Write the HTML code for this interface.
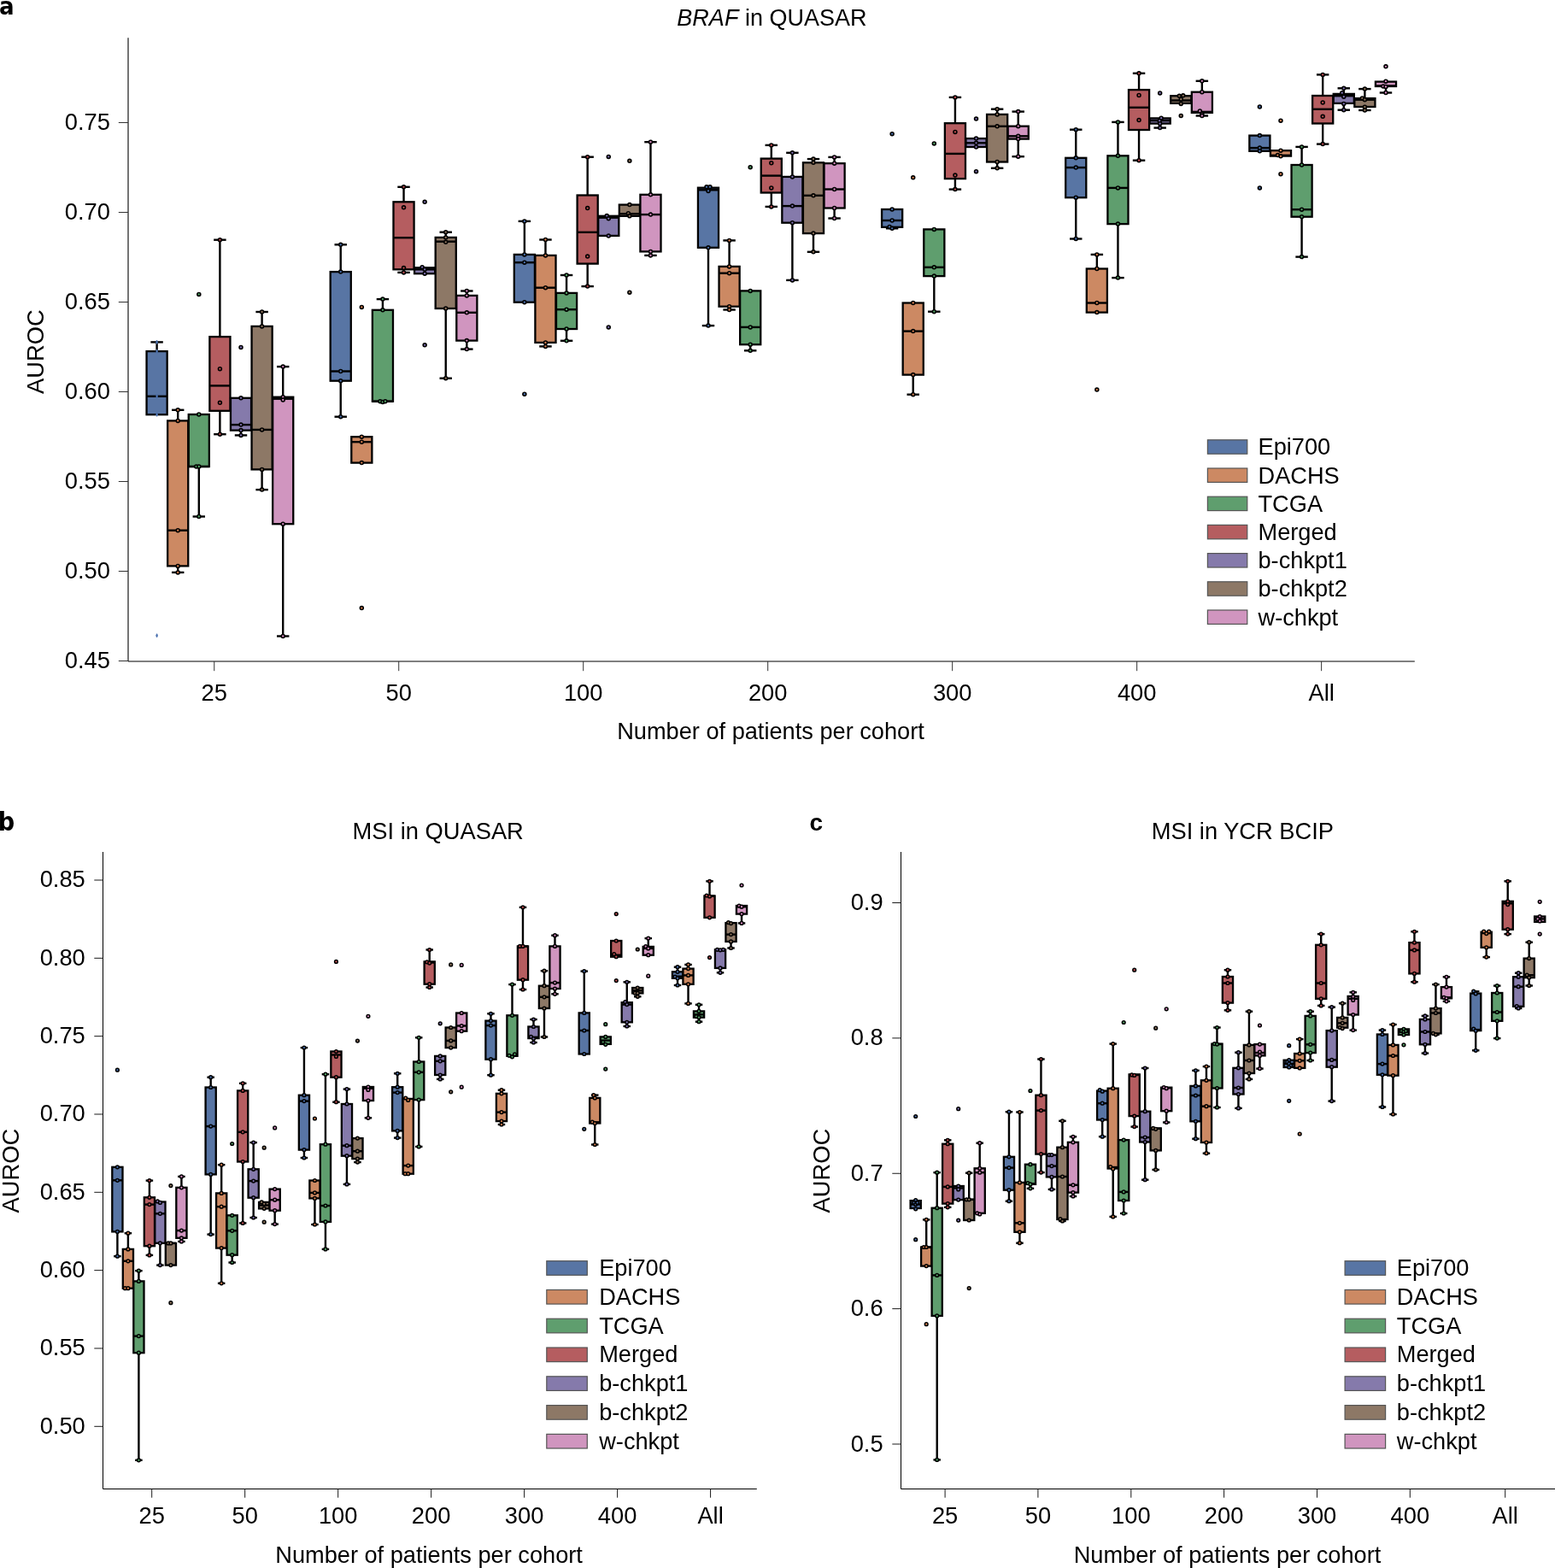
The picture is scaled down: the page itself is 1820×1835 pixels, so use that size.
<!DOCTYPE html>
<html><head><meta charset="utf-8"><title>AUROC box plots</title>
<style>
html,body{margin:0;padding:0;background:#fff;}
body{width:1820px;height:1835px;overflow:hidden;}
svg{display:block;font-family:'Liberation Sans', Arial, Helvetica, sans-serif;}
.b{stroke:#000;stroke-width:2.3;}
.w{stroke:#000;stroke-width:2.4;fill:none;stroke-linecap:square;}
.m{stroke:#000;stroke-width:2.4;fill:none;}
.lt{font-family:'Liberation Sans',Arial,sans-serif;font-weight:bold;}
.lc{font-family:'DejaVu Sans Condensed','DejaVu Sans','Liberation Sans',sans-serif;font-weight:bold;font-stretch:condensed;}
</style></head>
<body>
<svg width="1820" height="1835" viewBox="0 0 1820 1835">
<text x="-1.1" y="16.7" class="lc" font-size="29">a</text>
<text x="-2.3" y="971.9" class="lc" font-size="30.2">b</text>
<text x="947.5" y="971.8" class="lt" font-size="28">c</text>
<g id="pa">
<line x1="150" y1="44.2" x2="150" y2="774" stroke="#000" stroke-width="1.1"/>
<line x1="150" y1="774" x2="1655.8" y2="774" stroke="#000" stroke-width="1.1"/>
<line x1="138.8" y1="773.5" x2="150" y2="773.5" stroke="#333" stroke-width="1.0"/>
<text x="128.9" y="782" text-anchor="end" font-size="27.3">0.45</text>
<line x1="138.8" y1="668.5" x2="150" y2="668.5" stroke="#333" stroke-width="1.0"/>
<text x="128.9" y="677" text-anchor="end" font-size="27.3">0.50</text>
<line x1="138.8" y1="563.5" x2="150" y2="563.5" stroke="#333" stroke-width="1.0"/>
<text x="128.9" y="572" text-anchor="end" font-size="27.3">0.55</text>
<line x1="138.8" y1="458.5" x2="150" y2="458.5" stroke="#333" stroke-width="1.0"/>
<text x="128.9" y="467" text-anchor="end" font-size="27.3">0.60</text>
<line x1="138.8" y1="353.5" x2="150" y2="353.5" stroke="#333" stroke-width="1.0"/>
<text x="128.9" y="362" text-anchor="end" font-size="27.3">0.65</text>
<line x1="138.8" y1="248.5" x2="150" y2="248.5" stroke="#333" stroke-width="1.0"/>
<text x="128.9" y="257" text-anchor="end" font-size="27.3">0.70</text>
<line x1="138.8" y1="143.5" x2="150" y2="143.5" stroke="#333" stroke-width="1.0"/>
<text x="128.9" y="152" text-anchor="end" font-size="27.3">0.75</text>
<line x1="250.75" y1="774" x2="250.75" y2="785.2" stroke="#333" stroke-width="1.0"/>
<text x="250.75" y="819.5" text-anchor="middle" font-size="27.3">25</text>
<line x1="466.73" y1="774" x2="466.73" y2="785.2" stroke="#333" stroke-width="1.0"/>
<text x="466.73" y="819.5" text-anchor="middle" font-size="27.3">50</text>
<line x1="682.71" y1="774" x2="682.71" y2="785.2" stroke="#333" stroke-width="1.0"/>
<text x="682.71" y="819.5" text-anchor="middle" font-size="27.3">100</text>
<line x1="898.69" y1="774" x2="898.69" y2="785.2" stroke="#333" stroke-width="1.0"/>
<text x="898.69" y="819.5" text-anchor="middle" font-size="27.3">200</text>
<line x1="1114.67" y1="774" x2="1114.67" y2="785.2" stroke="#333" stroke-width="1.0"/>
<text x="1114.67" y="819.5" text-anchor="middle" font-size="27.3">300</text>
<line x1="1330.65" y1="774" x2="1330.65" y2="785.2" stroke="#333" stroke-width="1.0"/>
<text x="1330.65" y="819.5" text-anchor="middle" font-size="27.3">400</text>
<line x1="1546.63" y1="774" x2="1546.63" y2="785.2" stroke="#333" stroke-width="1.0"/>
<text x="1546.63" y="819.5" text-anchor="middle" font-size="27.3">All</text>
<text x="902" y="864.5" text-anchor="middle" font-size="27.2">Number of patients per cohort</text>
<text transform="translate(50.7,411.6) rotate(-90)" text-anchor="middle" font-size="27.3">AUROC</text>
<text x="903.4" y="29.7" text-anchor="middle" font-size="27.0"><tspan font-style="italic">BRAF</tspan> in QUASAR</text>
<rect x="1413.4" y="514.8" width="46.4" height="16.4" fill="#5875a4" stroke="#555" stroke-width="1.2"/>
<text x="1472.5" y="532.4" font-size="27.2">Epi700</text>
<rect x="1413.4" y="548" width="46.4" height="16.4" fill="#cc8963" stroke="#555" stroke-width="1.2"/>
<text x="1472.5" y="565.6" font-size="27.2">DACHS</text>
<rect x="1413.4" y="581.2" width="46.4" height="16.4" fill="#5f9e6e" stroke="#555" stroke-width="1.2"/>
<text x="1472.5" y="598.8" font-size="27.2">TCGA</text>
<rect x="1413.4" y="614.4" width="46.4" height="16.4" fill="#b55d60" stroke="#555" stroke-width="1.2"/>
<text x="1472.5" y="632" font-size="27.2">Merged</text>
<rect x="1413.4" y="647.6" width="46.4" height="16.4" fill="#857aab" stroke="#555" stroke-width="1.2"/>
<text x="1472.5" y="665.2" font-size="27.2">b-chkpt1</text>
<rect x="1413.4" y="680.8" width="46.4" height="16.4" fill="#8d7866" stroke="#555" stroke-width="1.2"/>
<text x="1472.5" y="698.4" font-size="27.2">b-chkpt2</text>
<rect x="1413.4" y="714" width="46.4" height="16.4" fill="#d095bf" stroke="#555" stroke-width="1.2"/>
<text x="1472.5" y="731.6" font-size="27.2">w-chkpt</text>
<line x1="183.6" y1="400.4" x2="183.6" y2="411.1" class="w"/>
<line x1="177.57" y1="400.4" x2="189.62" y2="400.4" class="w"/>
<rect x="171.55" y="411.1" width="24.1" height="74.1" fill="#5875a4" class="b"/>
<line x1="171.55" y1="463.8" x2="195.65" y2="463.8" class="m"/>
<line x1="208.2" y1="479.8" x2="208.2" y2="492.4" class="w"/>
<line x1="202.17" y1="479.8" x2="214.22" y2="479.8" class="w"/>
<line x1="208.2" y1="662.4" x2="208.2" y2="669.9" class="w"/>
<line x1="202.17" y1="669.9" x2="214.22" y2="669.9" class="w"/>
<rect x="196.15" y="492.4" width="24.1" height="170" fill="#cc8963" class="b"/>
<line x1="196.15" y1="620.7" x2="220.25" y2="620.7" class="m"/>
<line x1="232.8" y1="546" x2="232.8" y2="604.5" class="w"/>
<line x1="226.78" y1="604.5" x2="238.83" y2="604.5" class="w"/>
<rect x="220.75" y="485" width="24.1" height="61" fill="#5f9e6e" class="b"/>
<line x1="220.75" y1="546" x2="244.85" y2="546" class="m"/>
<line x1="257.4" y1="280.7" x2="257.4" y2="394.1" class="w"/>
<line x1="251.37" y1="280.7" x2="263.42" y2="280.7" class="w"/>
<line x1="257.4" y1="480.8" x2="257.4" y2="508.2" class="w"/>
<line x1="251.37" y1="508.2" x2="263.42" y2="508.2" class="w"/>
<rect x="245.35" y="394.1" width="24.1" height="86.7" fill="#b55d60" class="b"/>
<line x1="245.35" y1="451.4" x2="269.45" y2="451.4" class="m"/>
<line x1="282" y1="503.6" x2="282" y2="509.4" class="w"/>
<line x1="275.98" y1="509.4" x2="288.02" y2="509.4" class="w"/>
<rect x="269.95" y="465.8" width="24.1" height="37.8" fill="#857aab" class="b"/>
<line x1="269.95" y1="497.1" x2="294.05" y2="497.1" class="m"/>
<line x1="306.6" y1="365" x2="306.6" y2="381.9" class="w"/>
<line x1="300.58" y1="365" x2="312.62" y2="365" class="w"/>
<line x1="306.6" y1="549.4" x2="306.6" y2="573.1" class="w"/>
<line x1="300.58" y1="573.1" x2="312.62" y2="573.1" class="w"/>
<rect x="294.55" y="381.9" width="24.1" height="167.5" fill="#8d7866" class="b"/>
<line x1="294.55" y1="502.9" x2="318.65" y2="502.9" class="m"/>
<line x1="331.2" y1="429.1" x2="331.2" y2="464.7" class="w"/>
<line x1="325.18" y1="429.1" x2="337.23" y2="429.1" class="w"/>
<line x1="331.2" y1="613.2" x2="331.2" y2="744.5" class="w"/>
<line x1="325.18" y1="744.5" x2="337.23" y2="744.5" class="w"/>
<rect x="319.15" y="464.7" width="24.1" height="148.5" fill="#d095bf" class="b"/>
<line x1="319.15" y1="466.7" x2="343.25" y2="466.7" class="m"/>
<line x1="398.73" y1="286.3" x2="398.73" y2="318.1" class="w"/>
<line x1="392.71" y1="286.3" x2="404.75" y2="286.3" class="w"/>
<line x1="398.73" y1="445.7" x2="398.73" y2="487.7" class="w"/>
<line x1="392.71" y1="487.7" x2="404.75" y2="487.7" class="w"/>
<rect x="386.68" y="318.1" width="24.1" height="127.6" fill="#5875a4" class="b"/>
<line x1="386.68" y1="434.5" x2="410.78" y2="434.5" class="m"/>
<rect x="411.28" y="511.2" width="24.1" height="30.4" fill="#cc8963" class="b"/>
<line x1="411.28" y1="517.2" x2="435.38" y2="517.2" class="m"/>
<line x1="447.93" y1="350.1" x2="447.93" y2="362.8" class="w"/>
<line x1="441.91" y1="350.1" x2="453.95" y2="350.1" class="w"/>
<rect x="435.88" y="362.8" width="24.1" height="106.9" fill="#5f9e6e" class="b"/>
<line x1="435.88" y1="469.7" x2="459.98" y2="469.7" class="m"/>
<line x1="472.53" y1="218.8" x2="472.53" y2="236.3" class="w"/>
<line x1="466.51" y1="218.8" x2="478.56" y2="218.8" class="w"/>
<line x1="472.53" y1="315.3" x2="472.53" y2="318.9" class="w"/>
<line x1="466.51" y1="318.9" x2="478.56" y2="318.9" class="w"/>
<rect x="460.48" y="236.3" width="24.1" height="79" fill="#b55d60" class="b"/>
<line x1="460.48" y1="278.2" x2="484.58" y2="278.2" class="m"/>
<rect x="485.08" y="313.3" width="24.1" height="6.9" fill="#857aab" class="b"/>
<line x1="485.08" y1="315.3" x2="509.18" y2="315.3" class="m"/>
<line x1="521.73" y1="271.7" x2="521.73" y2="277.9" class="w"/>
<line x1="515.71" y1="271.7" x2="527.75" y2="271.7" class="w"/>
<line x1="521.73" y1="361" x2="521.73" y2="442.7" class="w"/>
<line x1="515.71" y1="442.7" x2="527.75" y2="442.7" class="w"/>
<rect x="509.68" y="277.9" width="24.1" height="83.1" fill="#8d7866" class="b"/>
<line x1="509.68" y1="282.7" x2="533.78" y2="282.7" class="m"/>
<line x1="546.33" y1="340.5" x2="546.33" y2="345.9" class="w"/>
<line x1="540.31" y1="340.5" x2="552.36" y2="340.5" class="w"/>
<line x1="546.33" y1="398.6" x2="546.33" y2="408.6" class="w"/>
<line x1="540.31" y1="408.6" x2="552.36" y2="408.6" class="w"/>
<rect x="534.28" y="345.9" width="24.1" height="52.7" fill="#d095bf" class="b"/>
<line x1="534.28" y1="365.8" x2="558.38" y2="365.8" class="m"/>
<line x1="613.86" y1="258.9" x2="613.86" y2="297.9" class="w"/>
<line x1="607.84" y1="258.9" x2="619.88" y2="258.9" class="w"/>
<rect x="601.81" y="297.9" width="24.1" height="55.8" fill="#5875a4" class="b"/>
<line x1="601.81" y1="307.2" x2="625.91" y2="307.2" class="m"/>
<line x1="638.46" y1="280.5" x2="638.46" y2="298.9" class="w"/>
<line x1="632.44" y1="280.5" x2="644.49" y2="280.5" class="w"/>
<line x1="638.46" y1="400.9" x2="638.46" y2="405.4" class="w"/>
<line x1="632.44" y1="405.4" x2="644.49" y2="405.4" class="w"/>
<rect x="626.41" y="298.9" width="24.1" height="102" fill="#cc8963" class="b"/>
<line x1="626.41" y1="336.7" x2="650.51" y2="336.7" class="m"/>
<line x1="663.06" y1="322" x2="663.06" y2="342.9" class="w"/>
<line x1="657.04" y1="322" x2="669.09" y2="322" class="w"/>
<line x1="663.06" y1="385" x2="663.06" y2="398.8" class="w"/>
<line x1="657.04" y1="398.8" x2="669.09" y2="398.8" class="w"/>
<rect x="651.01" y="342.9" width="24.1" height="42.1" fill="#5f9e6e" class="b"/>
<line x1="651.01" y1="362.2" x2="675.11" y2="362.2" class="m"/>
<line x1="687.66" y1="183.7" x2="687.66" y2="228.5" class="w"/>
<line x1="681.64" y1="183.7" x2="693.69" y2="183.7" class="w"/>
<line x1="687.66" y1="308.6" x2="687.66" y2="335.1" class="w"/>
<line x1="681.64" y1="335.1" x2="693.69" y2="335.1" class="w"/>
<rect x="675.61" y="228.5" width="24.1" height="80.1" fill="#b55d60" class="b"/>
<line x1="675.61" y1="271.8" x2="699.71" y2="271.8" class="m"/>
<rect x="700.21" y="252.8" width="24.1" height="23.1" fill="#857aab" class="b"/>
<line x1="700.21" y1="254.7" x2="724.31" y2="254.7" class="m"/>
<rect x="724.81" y="239.6" width="24.1" height="13.2" fill="#8d7866" class="b"/>
<line x1="724.81" y1="250.2" x2="748.91" y2="250.2" class="m"/>
<line x1="761.46" y1="166.2" x2="761.46" y2="227.8" class="w"/>
<line x1="755.44" y1="166.2" x2="767.49" y2="166.2" class="w"/>
<line x1="761.46" y1="294.4" x2="761.46" y2="298.9" class="w"/>
<line x1="755.44" y1="298.9" x2="767.49" y2="298.9" class="w"/>
<rect x="749.41" y="227.8" width="24.1" height="66.6" fill="#d095bf" class="b"/>
<line x1="749.41" y1="251.1" x2="773.51" y2="251.1" class="m"/>
<line x1="828.99" y1="289.8" x2="828.99" y2="381.1" class="w"/>
<line x1="822.97" y1="381.1" x2="835.01" y2="381.1" class="w"/>
<rect x="816.94" y="219.7" width="24.1" height="70.1" fill="#5875a4" class="b"/>
<line x1="816.94" y1="222.3" x2="841.04" y2="222.3" class="m"/>
<line x1="853.59" y1="281.4" x2="853.59" y2="311.9" class="w"/>
<line x1="847.57" y1="281.4" x2="859.62" y2="281.4" class="w"/>
<line x1="853.59" y1="358.7" x2="853.59" y2="362.5" class="w"/>
<line x1="847.57" y1="362.5" x2="859.62" y2="362.5" class="w"/>
<rect x="841.54" y="311.9" width="24.1" height="46.8" fill="#cc8963" class="b"/>
<line x1="841.54" y1="319.7" x2="865.64" y2="319.7" class="m"/>
<line x1="878.19" y1="403.2" x2="878.19" y2="410.3" class="w"/>
<line x1="872.17" y1="410.3" x2="884.22" y2="410.3" class="w"/>
<rect x="866.14" y="340.4" width="24.1" height="62.8" fill="#5f9e6e" class="b"/>
<line x1="866.14" y1="382.9" x2="890.24" y2="382.9" class="m"/>
<line x1="902.79" y1="169.9" x2="902.79" y2="185.6" class="w"/>
<line x1="896.76" y1="169.9" x2="908.81" y2="169.9" class="w"/>
<line x1="902.79" y1="225.5" x2="902.79" y2="241.9" class="w"/>
<line x1="896.76" y1="241.9" x2="908.81" y2="241.9" class="w"/>
<rect x="890.74" y="185.6" width="24.1" height="39.9" fill="#b55d60" class="b"/>
<line x1="890.74" y1="205.6" x2="914.84" y2="205.6" class="m"/>
<line x1="927.39" y1="178.8" x2="927.39" y2="206.9" class="w"/>
<line x1="921.37" y1="178.8" x2="933.41" y2="178.8" class="w"/>
<line x1="927.39" y1="260.7" x2="927.39" y2="327.9" class="w"/>
<line x1="921.37" y1="327.9" x2="933.41" y2="327.9" class="w"/>
<rect x="915.34" y="206.9" width="24.1" height="53.8" fill="#857aab" class="b"/>
<line x1="915.34" y1="241.1" x2="939.44" y2="241.1" class="m"/>
<line x1="951.99" y1="186.1" x2="951.99" y2="190.3" class="w"/>
<line x1="945.97" y1="186.1" x2="958.01" y2="186.1" class="w"/>
<line x1="951.99" y1="273.1" x2="951.99" y2="294.8" class="w"/>
<line x1="945.97" y1="294.8" x2="958.01" y2="294.8" class="w"/>
<rect x="939.94" y="190.3" width="24.1" height="82.8" fill="#8d7866" class="b"/>
<line x1="939.94" y1="228.8" x2="964.04" y2="228.8" class="m"/>
<line x1="976.59" y1="183.9" x2="976.59" y2="191.2" class="w"/>
<line x1="970.57" y1="183.9" x2="982.62" y2="183.9" class="w"/>
<line x1="976.59" y1="243.5" x2="976.59" y2="255.5" class="w"/>
<line x1="970.57" y1="255.5" x2="982.62" y2="255.5" class="w"/>
<rect x="964.54" y="191.2" width="24.1" height="52.3" fill="#d095bf" class="b"/>
<line x1="964.54" y1="221.5" x2="988.64" y2="221.5" class="m"/>
<line x1="1044.12" y1="265.8" x2="1044.12" y2="267.3" class="w"/>
<line x1="1038.09" y1="267.3" x2="1050.14" y2="267.3" class="w"/>
<rect x="1032.07" y="245" width="24.1" height="20.8" fill="#5875a4" class="b"/>
<line x1="1032.07" y1="258" x2="1056.17" y2="258" class="m"/>
<line x1="1068.72" y1="438.6" x2="1068.72" y2="461.7" class="w"/>
<line x1="1062.69" y1="461.7" x2="1074.74" y2="461.7" class="w"/>
<rect x="1056.67" y="354.5" width="24.1" height="84.1" fill="#cc8963" class="b"/>
<line x1="1056.67" y1="387.6" x2="1080.77" y2="387.6" class="m"/>
<line x1="1093.32" y1="323.1" x2="1093.32" y2="364.7" class="w"/>
<line x1="1087.29" y1="364.7" x2="1099.35" y2="364.7" class="w"/>
<rect x="1081.27" y="268.4" width="24.1" height="54.7" fill="#5f9e6e" class="b"/>
<line x1="1081.27" y1="312.8" x2="1105.37" y2="312.8" class="m"/>
<line x1="1117.92" y1="113.9" x2="1117.92" y2="144.2" class="w"/>
<line x1="1111.89" y1="113.9" x2="1123.94" y2="113.9" class="w"/>
<line x1="1117.92" y1="209.1" x2="1117.92" y2="221.6" class="w"/>
<line x1="1111.89" y1="221.6" x2="1123.94" y2="221.6" class="w"/>
<rect x="1105.87" y="144.2" width="24.1" height="64.9" fill="#b55d60" class="b"/>
<line x1="1105.87" y1="179.9" x2="1129.97" y2="179.9" class="m"/>
<rect x="1130.47" y="162.1" width="24.1" height="9.9" fill="#857aab" class="b"/>
<line x1="1130.47" y1="167.3" x2="1154.57" y2="167.3" class="m"/>
<line x1="1167.12" y1="127.7" x2="1167.12" y2="133.9" class="w"/>
<line x1="1161.09" y1="127.7" x2="1173.14" y2="127.7" class="w"/>
<line x1="1167.12" y1="189.5" x2="1167.12" y2="196.8" class="w"/>
<line x1="1161.09" y1="196.8" x2="1173.14" y2="196.8" class="w"/>
<rect x="1155.07" y="133.9" width="24.1" height="55.6" fill="#8d7866" class="b"/>
<line x1="1155.07" y1="147.8" x2="1179.17" y2="147.8" class="m"/>
<line x1="1191.72" y1="130.6" x2="1191.72" y2="147.7" class="w"/>
<line x1="1185.69" y1="130.6" x2="1197.74" y2="130.6" class="w"/>
<line x1="1191.72" y1="162.6" x2="1191.72" y2="183.2" class="w"/>
<line x1="1185.69" y1="183.2" x2="1197.74" y2="183.2" class="w"/>
<rect x="1179.67" y="147.7" width="24.1" height="14.9" fill="#d095bf" class="b"/>
<line x1="1179.67" y1="159.3" x2="1203.77" y2="159.3" class="m"/>
<line x1="1259.25" y1="151.7" x2="1259.25" y2="184.8" class="w"/>
<line x1="1253.22" y1="151.7" x2="1265.28" y2="151.7" class="w"/>
<line x1="1259.25" y1="231.2" x2="1259.25" y2="279.5" class="w"/>
<line x1="1253.22" y1="279.5" x2="1265.28" y2="279.5" class="w"/>
<rect x="1247.2" y="184.8" width="24.1" height="46.4" fill="#5875a4" class="b"/>
<line x1="1247.2" y1="196.1" x2="1271.3" y2="196.1" class="m"/>
<line x1="1283.85" y1="297.9" x2="1283.85" y2="314.5" class="w"/>
<line x1="1277.82" y1="297.9" x2="1289.88" y2="297.9" class="w"/>
<rect x="1271.8" y="314.5" width="24.1" height="51.1" fill="#cc8963" class="b"/>
<line x1="1271.8" y1="354.5" x2="1295.9" y2="354.5" class="m"/>
<line x1="1308.45" y1="142.9" x2="1308.45" y2="182.3" class="w"/>
<line x1="1302.42" y1="142.9" x2="1314.48" y2="142.9" class="w"/>
<line x1="1308.45" y1="262.1" x2="1308.45" y2="325.1" class="w"/>
<line x1="1302.42" y1="325.1" x2="1314.48" y2="325.1" class="w"/>
<rect x="1296.4" y="182.3" width="24.1" height="79.8" fill="#5f9e6e" class="b"/>
<line x1="1296.4" y1="219.9" x2="1320.5" y2="219.9" class="m"/>
<line x1="1333.05" y1="85.8" x2="1333.05" y2="105.1" class="w"/>
<line x1="1327.02" y1="85.8" x2="1339.08" y2="85.8" class="w"/>
<line x1="1333.05" y1="152" x2="1333.05" y2="187.7" class="w"/>
<line x1="1327.02" y1="187.7" x2="1339.08" y2="187.7" class="w"/>
<rect x="1321" y="105.1" width="24.1" height="46.9" fill="#b55d60" class="b"/>
<line x1="1321" y1="125.8" x2="1345.1" y2="125.8" class="m"/>
<line x1="1357.65" y1="144.6" x2="1357.65" y2="149.6" class="w"/>
<line x1="1351.62" y1="149.6" x2="1363.68" y2="149.6" class="w"/>
<rect x="1345.6" y="138.4" width="24.1" height="6.2" fill="#857aab" class="b"/>
<line x1="1345.6" y1="141.1" x2="1369.7" y2="141.1" class="m"/>
<rect x="1370.2" y="112.2" width="24.1" height="8.7" fill="#8d7866" class="b"/>
<line x1="1370.2" y1="117.5" x2="1394.3" y2="117.5" class="m"/>
<line x1="1406.85" y1="94.8" x2="1406.85" y2="107.7" class="w"/>
<line x1="1400.82" y1="94.8" x2="1412.88" y2="94.8" class="w"/>
<line x1="1406.85" y1="131.9" x2="1406.85" y2="135.5" class="w"/>
<line x1="1400.82" y1="135.5" x2="1412.88" y2="135.5" class="w"/>
<rect x="1394.8" y="107.7" width="24.1" height="24.2" fill="#d095bf" class="b"/>
<line x1="1394.8" y1="130.9" x2="1418.9" y2="130.9" class="m"/>
<rect x="1462.33" y="158.6" width="24.1" height="18.2" fill="#5875a4" class="b"/>
<line x1="1462.33" y1="173.1" x2="1486.43" y2="173.1" class="m"/>
<rect x="1486.93" y="176.2" width="24.1" height="6.4" fill="#cc8963" class="b"/>
<line x1="1486.93" y1="181.8" x2="1511.03" y2="181.8" class="m"/>
<line x1="1523.58" y1="171.9" x2="1523.58" y2="193" class="w"/>
<line x1="1517.55" y1="171.9" x2="1529.61" y2="171.9" class="w"/>
<line x1="1523.58" y1="253.7" x2="1523.58" y2="300.6" class="w"/>
<line x1="1517.55" y1="300.6" x2="1529.61" y2="300.6" class="w"/>
<rect x="1511.53" y="193" width="24.1" height="60.7" fill="#5f9e6e" class="b"/>
<line x1="1511.53" y1="245.2" x2="1535.63" y2="245.2" class="m"/>
<line x1="1548.18" y1="87.4" x2="1548.18" y2="112" class="w"/>
<line x1="1542.15" y1="87.4" x2="1554.2" y2="87.4" class="w"/>
<line x1="1548.18" y1="144.5" x2="1548.18" y2="168.6" class="w"/>
<line x1="1542.15" y1="168.6" x2="1554.2" y2="168.6" class="w"/>
<rect x="1536.13" y="112" width="24.1" height="32.5" fill="#b55d60" class="b"/>
<line x1="1536.13" y1="127.8" x2="1560.23" y2="127.8" class="m"/>
<line x1="1572.78" y1="103.3" x2="1572.78" y2="109.9" class="w"/>
<line x1="1566.75" y1="103.3" x2="1578.81" y2="103.3" class="w"/>
<line x1="1572.78" y1="120.9" x2="1572.78" y2="128.7" class="w"/>
<line x1="1566.75" y1="128.7" x2="1578.81" y2="128.7" class="w"/>
<rect x="1560.73" y="109.9" width="24.1" height="11" fill="#857aab" class="b"/>
<line x1="1560.73" y1="112.2" x2="1584.83" y2="112.2" class="m"/>
<line x1="1597.38" y1="104.1" x2="1597.38" y2="115.1" class="w"/>
<line x1="1591.35" y1="104.1" x2="1603.4" y2="104.1" class="w"/>
<line x1="1597.38" y1="125" x2="1597.38" y2="129" class="w"/>
<line x1="1591.35" y1="129" x2="1603.4" y2="129" class="w"/>
<rect x="1585.33" y="115.1" width="24.1" height="9.9" fill="#8d7866" class="b"/>
<line x1="1585.33" y1="116.7" x2="1609.43" y2="116.7" class="m"/>
<line x1="1621.98" y1="101" x2="1621.98" y2="108.5" class="w"/>
<line x1="1615.95" y1="108.5" x2="1628.01" y2="108.5" class="w"/>
<rect x="1609.93" y="95.6" width="24.1" height="5.4" fill="#d095bf" class="b"/>
<line x1="1609.93" y1="100.5" x2="1634.03" y2="100.5" class="m"/>
<path d="M183.2 398.1L184 398.1L185 400.4L184 402.7L183.2 402.7L182.2 400.4Z" fill="#4c72b0"/>
<path d="M183.2 408.8L184 408.8L185 411.1L184 413.4L183.2 413.4L182.2 411.1Z" fill="#4c72b0"/>
<path d="M183.2 461.5L184 461.5L185 463.8L184 466.1L183.2 466.1L182.2 463.8Z" fill="#4c72b0"/>
<path d="M183.2 482.9L184 482.9L185 485.2L184 487.5L183.2 487.5L182.2 485.2Z" fill="#4c72b0"/>
<path d="M183.2 741.5L184 741.5L185 743.8L184 746.1L183.2 746.1L182.2 743.8Z" fill="#4c72b0"/>
<circle cx="208.2" cy="479.8" r="1.95" fill="#dd8452" stroke="#000" stroke-width="1.6"/>
<circle cx="208.2" cy="492.4" r="1.95" fill="#dd8452" stroke="#000" stroke-width="1.6"/>
<circle cx="208.2" cy="620.7" r="1.95" fill="#dd8452" stroke="#000" stroke-width="1.6"/>
<circle cx="208.2" cy="662.4" r="1.95" fill="#dd8452" stroke="#000" stroke-width="1.6"/>
<circle cx="208.2" cy="669.9" r="1.95" fill="#dd8452" stroke="#000" stroke-width="1.6"/>
<circle cx="232.8" cy="344.4" r="1.95" fill="#55a868" stroke="#000" stroke-width="1.6"/>
<circle cx="232.8" cy="485" r="1.95" fill="#55a868" stroke="#000" stroke-width="1.6"/>
<circle cx="229.8" cy="546" r="1.95" fill="#55a868" stroke="#000" stroke-width="1.6"/>
<circle cx="232.8" cy="546" r="1.95" fill="#55a868" stroke="#000" stroke-width="1.6"/>
<circle cx="232.8" cy="604.5" r="1.95" fill="#55a868" stroke="#000" stroke-width="1.6"/>
<circle cx="257.4" cy="280.7" r="1.95" fill="#c44e52" stroke="#000" stroke-width="1.6"/>
<circle cx="257.4" cy="431.7" r="1.95" fill="#c44e52" stroke="#000" stroke-width="1.6"/>
<circle cx="257.4" cy="471.3" r="1.95" fill="#c44e52" stroke="#000" stroke-width="1.6"/>
<circle cx="257.4" cy="508.2" r="1.95" fill="#c44e52" stroke="#000" stroke-width="1.6"/>
<circle cx="282" cy="406.5" r="1.95" fill="#8172b3" stroke="#000" stroke-width="1.6"/>
<circle cx="282" cy="465.8" r="1.95" fill="#8172b3" stroke="#000" stroke-width="1.6"/>
<circle cx="282" cy="497.1" r="1.95" fill="#8172b3" stroke="#000" stroke-width="1.6"/>
<circle cx="282" cy="503.6" r="1.95" fill="#8172b3" stroke="#000" stroke-width="1.6"/>
<circle cx="282" cy="509.4" r="1.95" fill="#8172b3" stroke="#000" stroke-width="1.6"/>
<circle cx="306.6" cy="365" r="1.95" fill="#937860" stroke="#000" stroke-width="1.6"/>
<circle cx="306.6" cy="381.9" r="1.95" fill="#937860" stroke="#000" stroke-width="1.6"/>
<circle cx="306.6" cy="502.9" r="1.95" fill="#937860" stroke="#000" stroke-width="1.6"/>
<circle cx="306.6" cy="549.4" r="1.95" fill="#937860" stroke="#000" stroke-width="1.6"/>
<circle cx="306.6" cy="573.1" r="1.95" fill="#937860" stroke="#000" stroke-width="1.6"/>
<circle cx="331.2" cy="429.1" r="1.95" fill="#da8bc3" stroke="#000" stroke-width="1.6"/>
<circle cx="331.2" cy="464.7" r="1.95" fill="#da8bc3" stroke="#000" stroke-width="1.6"/>
<circle cx="331.2" cy="468" r="1.95" fill="#da8bc3" stroke="#000" stroke-width="1.6"/>
<circle cx="331.2" cy="613.2" r="1.95" fill="#da8bc3" stroke="#000" stroke-width="1.6"/>
<circle cx="331.2" cy="744.5" r="1.95" fill="#da8bc3" stroke="#000" stroke-width="1.6"/>
<circle cx="398.73" cy="286.3" r="1.95" fill="#4c72b0" stroke="#000" stroke-width="1.6"/>
<circle cx="398.73" cy="318.1" r="1.95" fill="#4c72b0" stroke="#000" stroke-width="1.6"/>
<circle cx="398.73" cy="434.5" r="1.95" fill="#4c72b0" stroke="#000" stroke-width="1.6"/>
<circle cx="398.73" cy="445.7" r="1.95" fill="#4c72b0" stroke="#000" stroke-width="1.6"/>
<circle cx="398.73" cy="487.7" r="1.95" fill="#4c72b0" stroke="#000" stroke-width="1.6"/>
<circle cx="423.33" cy="359.4" r="1.95" fill="#dd8452" stroke="#000" stroke-width="1.6"/>
<circle cx="423.33" cy="511.2" r="1.95" fill="#dd8452" stroke="#000" stroke-width="1.6"/>
<circle cx="423.33" cy="517.2" r="1.95" fill="#dd8452" stroke="#000" stroke-width="1.6"/>
<circle cx="423.33" cy="541.6" r="1.95" fill="#dd8452" stroke="#000" stroke-width="1.6"/>
<circle cx="423.33" cy="711.6" r="1.95" fill="#dd8452" stroke="#000" stroke-width="1.6"/>
<circle cx="447.93" cy="350.1" r="1.95" fill="#55a868" stroke="#000" stroke-width="1.6"/>
<circle cx="447.93" cy="362.8" r="1.95" fill="#55a868" stroke="#000" stroke-width="1.6"/>
<circle cx="444.93" cy="469.7" r="1.95" fill="#55a868" stroke="#000" stroke-width="1.6"/>
<circle cx="447.93" cy="470.5" r="1.95" fill="#55a868" stroke="#000" stroke-width="1.6"/>
<circle cx="450.93" cy="469.7" r="1.95" fill="#55a868" stroke="#000" stroke-width="1.6"/>
<circle cx="472.53" cy="218.8" r="1.95" fill="#c44e52" stroke="#000" stroke-width="1.6"/>
<circle cx="472.53" cy="242.8" r="1.95" fill="#c44e52" stroke="#000" stroke-width="1.6"/>
<circle cx="472.53" cy="313.6" r="1.95" fill="#c44e52" stroke="#000" stroke-width="1.6"/>
<circle cx="472.53" cy="318.9" r="1.95" fill="#c44e52" stroke="#000" stroke-width="1.6"/>
<circle cx="497.13" cy="236.3" r="1.95" fill="#8172b3" stroke="#000" stroke-width="1.6"/>
<circle cx="494.13" cy="312.7" r="1.95" fill="#8172b3" stroke="#000" stroke-width="1.6"/>
<circle cx="497.13" cy="315.3" r="1.95" fill="#8172b3" stroke="#000" stroke-width="1.6"/>
<circle cx="497.13" cy="320.2" r="1.95" fill="#8172b3" stroke="#000" stroke-width="1.6"/>
<circle cx="497.13" cy="403.8" r="1.95" fill="#8172b3" stroke="#000" stroke-width="1.6"/>
<circle cx="521.73" cy="271.7" r="1.95" fill="#937860" stroke="#000" stroke-width="1.6"/>
<circle cx="521.73" cy="277.9" r="1.95" fill="#937860" stroke="#000" stroke-width="1.6"/>
<circle cx="521.73" cy="283.3" r="1.95" fill="#937860" stroke="#000" stroke-width="1.6"/>
<circle cx="521.73" cy="361" r="1.95" fill="#937860" stroke="#000" stroke-width="1.6"/>
<circle cx="521.73" cy="442.7" r="1.95" fill="#937860" stroke="#000" stroke-width="1.6"/>
<circle cx="546.33" cy="340.5" r="1.95" fill="#da8bc3" stroke="#000" stroke-width="1.6"/>
<circle cx="546.33" cy="345.9" r="1.95" fill="#da8bc3" stroke="#000" stroke-width="1.6"/>
<circle cx="546.33" cy="365.8" r="1.95" fill="#da8bc3" stroke="#000" stroke-width="1.6"/>
<circle cx="546.33" cy="398.6" r="1.95" fill="#da8bc3" stroke="#000" stroke-width="1.6"/>
<circle cx="546.33" cy="408.6" r="1.95" fill="#da8bc3" stroke="#000" stroke-width="1.6"/>
<circle cx="613.86" cy="258.9" r="1.95" fill="#4c72b0" stroke="#000" stroke-width="1.6"/>
<circle cx="613.86" cy="297.9" r="1.95" fill="#4c72b0" stroke="#000" stroke-width="1.6"/>
<circle cx="613.86" cy="307.2" r="1.95" fill="#4c72b0" stroke="#000" stroke-width="1.6"/>
<circle cx="613.86" cy="353.7" r="1.95" fill="#4c72b0" stroke="#000" stroke-width="1.6"/>
<circle cx="613.86" cy="461.2" r="1.95" fill="#4c72b0" stroke="#000" stroke-width="1.6"/>
<circle cx="638.46" cy="280.5" r="1.95" fill="#dd8452" stroke="#000" stroke-width="1.6"/>
<circle cx="638.46" cy="298.9" r="1.95" fill="#dd8452" stroke="#000" stroke-width="1.6"/>
<circle cx="638.46" cy="336.7" r="1.95" fill="#dd8452" stroke="#000" stroke-width="1.6"/>
<circle cx="638.46" cy="400.9" r="1.95" fill="#dd8452" stroke="#000" stroke-width="1.6"/>
<circle cx="638.46" cy="405.4" r="1.95" fill="#dd8452" stroke="#000" stroke-width="1.6"/>
<circle cx="663.06" cy="322" r="1.95" fill="#55a868" stroke="#000" stroke-width="1.6"/>
<circle cx="663.06" cy="342.9" r="1.95" fill="#55a868" stroke="#000" stroke-width="1.6"/>
<circle cx="663.06" cy="362.2" r="1.95" fill="#55a868" stroke="#000" stroke-width="1.6"/>
<circle cx="663.06" cy="385" r="1.95" fill="#55a868" stroke="#000" stroke-width="1.6"/>
<circle cx="663.06" cy="398.8" r="1.95" fill="#55a868" stroke="#000" stroke-width="1.6"/>
<circle cx="687.66" cy="183.7" r="1.95" fill="#c44e52" stroke="#000" stroke-width="1.6"/>
<circle cx="687.66" cy="243.6" r="1.95" fill="#c44e52" stroke="#000" stroke-width="1.6"/>
<circle cx="687.66" cy="300.1" r="1.95" fill="#c44e52" stroke="#000" stroke-width="1.6"/>
<circle cx="687.66" cy="335.1" r="1.95" fill="#c44e52" stroke="#000" stroke-width="1.6"/>
<circle cx="712.26" cy="183.4" r="1.95" fill="#8172b3" stroke="#000" stroke-width="1.6"/>
<circle cx="710.26" cy="252.6" r="1.95" fill="#8172b3" stroke="#000" stroke-width="1.6"/>
<circle cx="712.26" cy="255.8" r="1.95" fill="#8172b3" stroke="#000" stroke-width="1.6"/>
<circle cx="712.26" cy="276.1" r="1.95" fill="#8172b3" stroke="#000" stroke-width="1.6"/>
<circle cx="712.26" cy="382.9" r="1.95" fill="#8172b3" stroke="#000" stroke-width="1.6"/>
<circle cx="736.86" cy="188.3" r="1.95" fill="#937860" stroke="#000" stroke-width="1.6"/>
<circle cx="736.86" cy="239.6" r="1.95" fill="#937860" stroke="#000" stroke-width="1.6"/>
<circle cx="735.36" cy="249.7" r="1.95" fill="#937860" stroke="#000" stroke-width="1.6"/>
<circle cx="736.86" cy="252.8" r="1.95" fill="#937860" stroke="#000" stroke-width="1.6"/>
<circle cx="736.86" cy="342.2" r="1.95" fill="#937860" stroke="#000" stroke-width="1.6"/>
<circle cx="761.46" cy="166.2" r="1.95" fill="#da8bc3" stroke="#000" stroke-width="1.6"/>
<circle cx="761.46" cy="227.8" r="1.95" fill="#da8bc3" stroke="#000" stroke-width="1.6"/>
<circle cx="761.46" cy="251.1" r="1.95" fill="#da8bc3" stroke="#000" stroke-width="1.6"/>
<circle cx="761.46" cy="294.4" r="1.95" fill="#da8bc3" stroke="#000" stroke-width="1.6"/>
<circle cx="761.46" cy="298.9" r="1.95" fill="#da8bc3" stroke="#000" stroke-width="1.6"/>
<circle cx="826.99" cy="218.8" r="1.95" fill="#4c72b0" stroke="#000" stroke-width="1.6"/>
<circle cx="830.99" cy="218.8" r="1.95" fill="#4c72b0" stroke="#000" stroke-width="1.6"/>
<circle cx="828.99" cy="223.4" r="1.95" fill="#4c72b0" stroke="#000" stroke-width="1.6"/>
<circle cx="828.99" cy="289.8" r="1.95" fill="#4c72b0" stroke="#000" stroke-width="1.6"/>
<circle cx="828.99" cy="381.1" r="1.95" fill="#4c72b0" stroke="#000" stroke-width="1.6"/>
<circle cx="853.59" cy="281.4" r="1.95" fill="#dd8452" stroke="#000" stroke-width="1.6"/>
<circle cx="853.59" cy="311.9" r="1.95" fill="#dd8452" stroke="#000" stroke-width="1.6"/>
<circle cx="853.59" cy="319.7" r="1.95" fill="#dd8452" stroke="#000" stroke-width="1.6"/>
<circle cx="853.59" cy="358.7" r="1.95" fill="#dd8452" stroke="#000" stroke-width="1.6"/>
<circle cx="853.59" cy="362.5" r="1.95" fill="#dd8452" stroke="#000" stroke-width="1.6"/>
<circle cx="878.19" cy="195.7" r="1.95" fill="#55a868" stroke="#000" stroke-width="1.6"/>
<circle cx="878.19" cy="340.4" r="1.95" fill="#55a868" stroke="#000" stroke-width="1.6"/>
<circle cx="878.19" cy="382.9" r="1.95" fill="#55a868" stroke="#000" stroke-width="1.6"/>
<circle cx="878.19" cy="403.2" r="1.95" fill="#55a868" stroke="#000" stroke-width="1.6"/>
<circle cx="878.19" cy="410.3" r="1.95" fill="#55a868" stroke="#000" stroke-width="1.6"/>
<circle cx="902.79" cy="169.9" r="1.95" fill="#c44e52" stroke="#000" stroke-width="1.6"/>
<circle cx="902.79" cy="190.8" r="1.95" fill="#c44e52" stroke="#000" stroke-width="1.6"/>
<circle cx="902.79" cy="219.9" r="1.95" fill="#c44e52" stroke="#000" stroke-width="1.6"/>
<circle cx="902.79" cy="241.9" r="1.95" fill="#c44e52" stroke="#000" stroke-width="1.6"/>
<circle cx="927.39" cy="178.8" r="1.95" fill="#8172b3" stroke="#000" stroke-width="1.6"/>
<circle cx="927.39" cy="206.9" r="1.95" fill="#8172b3" stroke="#000" stroke-width="1.6"/>
<circle cx="927.39" cy="241.1" r="1.95" fill="#8172b3" stroke="#000" stroke-width="1.6"/>
<circle cx="927.39" cy="260.7" r="1.95" fill="#8172b3" stroke="#000" stroke-width="1.6"/>
<circle cx="927.39" cy="327.9" r="1.95" fill="#8172b3" stroke="#000" stroke-width="1.6"/>
<circle cx="951.99" cy="186.1" r="1.95" fill="#937860" stroke="#000" stroke-width="1.6"/>
<circle cx="951.99" cy="190.3" r="1.95" fill="#937860" stroke="#000" stroke-width="1.6"/>
<circle cx="951.99" cy="228.8" r="1.95" fill="#937860" stroke="#000" stroke-width="1.6"/>
<circle cx="951.99" cy="273.1" r="1.95" fill="#937860" stroke="#000" stroke-width="1.6"/>
<circle cx="951.99" cy="294.8" r="1.95" fill="#937860" stroke="#000" stroke-width="1.6"/>
<circle cx="976.59" cy="183.9" r="1.95" fill="#da8bc3" stroke="#000" stroke-width="1.6"/>
<circle cx="976.59" cy="191.2" r="1.95" fill="#da8bc3" stroke="#000" stroke-width="1.6"/>
<circle cx="976.59" cy="221.5" r="1.95" fill="#da8bc3" stroke="#000" stroke-width="1.6"/>
<circle cx="976.59" cy="243.5" r="1.95" fill="#da8bc3" stroke="#000" stroke-width="1.6"/>
<circle cx="976.59" cy="255.5" r="1.95" fill="#da8bc3" stroke="#000" stroke-width="1.6"/>
<circle cx="1044.12" cy="156.7" r="1.95" fill="#4c72b0" stroke="#000" stroke-width="1.6"/>
<circle cx="1044.12" cy="245" r="1.95" fill="#4c72b0" stroke="#000" stroke-width="1.6"/>
<circle cx="1044.12" cy="258" r="1.95" fill="#4c72b0" stroke="#000" stroke-width="1.6"/>
<circle cx="1041.12" cy="265.5" r="1.95" fill="#4c72b0" stroke="#000" stroke-width="1.6"/>
<circle cx="1044.12" cy="267.3" r="1.95" fill="#4c72b0" stroke="#000" stroke-width="1.6"/>
<circle cx="1068.72" cy="207.8" r="1.95" fill="#dd8452" stroke="#000" stroke-width="1.6"/>
<circle cx="1068.72" cy="354.5" r="1.95" fill="#dd8452" stroke="#000" stroke-width="1.6"/>
<circle cx="1068.72" cy="387.6" r="1.95" fill="#dd8452" stroke="#000" stroke-width="1.6"/>
<circle cx="1068.72" cy="438.6" r="1.95" fill="#dd8452" stroke="#000" stroke-width="1.6"/>
<circle cx="1068.72" cy="461.7" r="1.95" fill="#dd8452" stroke="#000" stroke-width="1.6"/>
<circle cx="1093.32" cy="167.9" r="1.95" fill="#55a868" stroke="#000" stroke-width="1.6"/>
<circle cx="1093.32" cy="268.4" r="1.95" fill="#55a868" stroke="#000" stroke-width="1.6"/>
<circle cx="1093.32" cy="312.8" r="1.95" fill="#55a868" stroke="#000" stroke-width="1.6"/>
<circle cx="1093.32" cy="323.1" r="1.95" fill="#55a868" stroke="#000" stroke-width="1.6"/>
<circle cx="1093.32" cy="364.7" r="1.95" fill="#55a868" stroke="#000" stroke-width="1.6"/>
<circle cx="1117.92" cy="113.9" r="1.95" fill="#c44e52" stroke="#000" stroke-width="1.6"/>
<circle cx="1117.92" cy="154.4" r="1.95" fill="#c44e52" stroke="#000" stroke-width="1.6"/>
<circle cx="1117.92" cy="205.1" r="1.95" fill="#c44e52" stroke="#000" stroke-width="1.6"/>
<circle cx="1117.92" cy="221.6" r="1.95" fill="#c44e52" stroke="#000" stroke-width="1.6"/>
<circle cx="1142.52" cy="139.1" r="1.95" fill="#8172b3" stroke="#000" stroke-width="1.6"/>
<circle cx="1142.52" cy="162.1" r="1.95" fill="#8172b3" stroke="#000" stroke-width="1.6"/>
<circle cx="1142.52" cy="167.3" r="1.95" fill="#8172b3" stroke="#000" stroke-width="1.6"/>
<circle cx="1142.52" cy="172" r="1.95" fill="#8172b3" stroke="#000" stroke-width="1.6"/>
<circle cx="1142.52" cy="200.7" r="1.95" fill="#8172b3" stroke="#000" stroke-width="1.6"/>
<circle cx="1167.12" cy="127.7" r="1.95" fill="#937860" stroke="#000" stroke-width="1.6"/>
<circle cx="1167.12" cy="133.9" r="1.95" fill="#937860" stroke="#000" stroke-width="1.6"/>
<circle cx="1167.12" cy="147.8" r="1.95" fill="#937860" stroke="#000" stroke-width="1.6"/>
<circle cx="1167.12" cy="189.5" r="1.95" fill="#937860" stroke="#000" stroke-width="1.6"/>
<circle cx="1167.12" cy="196.8" r="1.95" fill="#937860" stroke="#000" stroke-width="1.6"/>
<circle cx="1191.72" cy="130.6" r="1.95" fill="#da8bc3" stroke="#000" stroke-width="1.6"/>
<circle cx="1191.72" cy="147.7" r="1.95" fill="#da8bc3" stroke="#000" stroke-width="1.6"/>
<circle cx="1191.72" cy="159.3" r="1.95" fill="#da8bc3" stroke="#000" stroke-width="1.6"/>
<circle cx="1191.72" cy="162.6" r="1.95" fill="#da8bc3" stroke="#000" stroke-width="1.6"/>
<circle cx="1191.72" cy="183.2" r="1.95" fill="#da8bc3" stroke="#000" stroke-width="1.6"/>
<circle cx="1259.25" cy="151.7" r="1.95" fill="#4c72b0" stroke="#000" stroke-width="1.6"/>
<circle cx="1259.25" cy="184.8" r="1.95" fill="#4c72b0" stroke="#000" stroke-width="1.6"/>
<circle cx="1259.25" cy="196.1" r="1.95" fill="#4c72b0" stroke="#000" stroke-width="1.6"/>
<circle cx="1259.25" cy="231.2" r="1.95" fill="#4c72b0" stroke="#000" stroke-width="1.6"/>
<circle cx="1259.25" cy="279.5" r="1.95" fill="#4c72b0" stroke="#000" stroke-width="1.6"/>
<circle cx="1283.85" cy="297.9" r="1.95" fill="#dd8452" stroke="#000" stroke-width="1.6"/>
<circle cx="1283.85" cy="314.5" r="1.95" fill="#dd8452" stroke="#000" stroke-width="1.6"/>
<circle cx="1283.85" cy="354.5" r="1.95" fill="#dd8452" stroke="#000" stroke-width="1.6"/>
<circle cx="1283.85" cy="365.6" r="1.95" fill="#dd8452" stroke="#000" stroke-width="1.6"/>
<circle cx="1283.85" cy="456.1" r="1.95" fill="#dd8452" stroke="#000" stroke-width="1.6"/>
<circle cx="1308.45" cy="142.9" r="1.95" fill="#55a868" stroke="#000" stroke-width="1.6"/>
<circle cx="1308.45" cy="182.3" r="1.95" fill="#55a868" stroke="#000" stroke-width="1.6"/>
<circle cx="1308.45" cy="219.9" r="1.95" fill="#55a868" stroke="#000" stroke-width="1.6"/>
<circle cx="1308.45" cy="262.1" r="1.95" fill="#55a868" stroke="#000" stroke-width="1.6"/>
<circle cx="1308.45" cy="325.1" r="1.95" fill="#55a868" stroke="#000" stroke-width="1.6"/>
<circle cx="1333.05" cy="85.8" r="1.95" fill="#c44e52" stroke="#000" stroke-width="1.6"/>
<circle cx="1333.05" cy="111.5" r="1.95" fill="#c44e52" stroke="#000" stroke-width="1.6"/>
<circle cx="1333.05" cy="140.6" r="1.95" fill="#c44e52" stroke="#000" stroke-width="1.6"/>
<circle cx="1333.05" cy="187.7" r="1.95" fill="#c44e52" stroke="#000" stroke-width="1.6"/>
<circle cx="1357.65" cy="108.9" r="1.95" fill="#8172b3" stroke="#000" stroke-width="1.6"/>
<circle cx="1359.15" cy="138.2" r="1.95" fill="#8172b3" stroke="#000" stroke-width="1.6"/>
<circle cx="1357.15" cy="141.5" r="1.95" fill="#8172b3" stroke="#000" stroke-width="1.6"/>
<circle cx="1357.65" cy="144.7" r="1.95" fill="#8172b3" stroke="#000" stroke-width="1.6"/>
<circle cx="1357.65" cy="149.6" r="1.95" fill="#8172b3" stroke="#000" stroke-width="1.6"/>
<circle cx="1380.25" cy="112.3" r="1.95" fill="#937860" stroke="#000" stroke-width="1.6"/>
<circle cx="1384.75" cy="111.8" r="1.95" fill="#937860" stroke="#000" stroke-width="1.6"/>
<circle cx="1382.25" cy="116.2" r="1.95" fill="#937860" stroke="#000" stroke-width="1.6"/>
<circle cx="1382.25" cy="121.4" r="1.95" fill="#937860" stroke="#000" stroke-width="1.6"/>
<circle cx="1382.25" cy="135.5" r="1.95" fill="#937860" stroke="#000" stroke-width="1.6"/>
<circle cx="1406.85" cy="94.8" r="1.95" fill="#da8bc3" stroke="#000" stroke-width="1.6"/>
<circle cx="1406.85" cy="107.7" r="1.95" fill="#da8bc3" stroke="#000" stroke-width="1.6"/>
<circle cx="1404.35" cy="130" r="1.95" fill="#da8bc3" stroke="#000" stroke-width="1.6"/>
<circle cx="1406.85" cy="133.6" r="1.95" fill="#da8bc3" stroke="#000" stroke-width="1.6"/>
<circle cx="1406.85" cy="135.5" r="1.95" fill="#da8bc3" stroke="#000" stroke-width="1.6"/>
<circle cx="1474.38" cy="125" r="1.95" fill="#4c72b0" stroke="#000" stroke-width="1.6"/>
<circle cx="1474.38" cy="158.6" r="1.95" fill="#4c72b0" stroke="#000" stroke-width="1.6"/>
<circle cx="1474.38" cy="173.1" r="1.95" fill="#4c72b0" stroke="#000" stroke-width="1.6"/>
<circle cx="1474.38" cy="176.8" r="1.95" fill="#4c72b0" stroke="#000" stroke-width="1.6"/>
<circle cx="1474.38" cy="219.9" r="1.95" fill="#4c72b0" stroke="#000" stroke-width="1.6"/>
<circle cx="1498.98" cy="141.2" r="1.95" fill="#dd8452" stroke="#000" stroke-width="1.6"/>
<circle cx="1498.98" cy="176.2" r="1.95" fill="#dd8452" stroke="#000" stroke-width="1.6"/>
<circle cx="1495.48" cy="181.6" r="1.95" fill="#dd8452" stroke="#000" stroke-width="1.6"/>
<circle cx="1498.98" cy="182.8" r="1.95" fill="#dd8452" stroke="#000" stroke-width="1.6"/>
<circle cx="1498.98" cy="203.7" r="1.95" fill="#dd8452" stroke="#000" stroke-width="1.6"/>
<circle cx="1523.58" cy="171.9" r="1.95" fill="#55a868" stroke="#000" stroke-width="1.6"/>
<circle cx="1523.58" cy="193" r="1.95" fill="#55a868" stroke="#000" stroke-width="1.6"/>
<circle cx="1523.58" cy="245.2" r="1.95" fill="#55a868" stroke="#000" stroke-width="1.6"/>
<circle cx="1523.58" cy="253.7" r="1.95" fill="#55a868" stroke="#000" stroke-width="1.6"/>
<circle cx="1523.58" cy="300.6" r="1.95" fill="#55a868" stroke="#000" stroke-width="1.6"/>
<circle cx="1548.18" cy="87.4" r="1.95" fill="#c44e52" stroke="#000" stroke-width="1.6"/>
<circle cx="1548.18" cy="120" r="1.95" fill="#c44e52" stroke="#000" stroke-width="1.6"/>
<circle cx="1548.18" cy="136.3" r="1.95" fill="#c44e52" stroke="#000" stroke-width="1.6"/>
<circle cx="1548.18" cy="168.6" r="1.95" fill="#c44e52" stroke="#000" stroke-width="1.6"/>
<circle cx="1572.78" cy="103.3" r="1.95" fill="#8172b3" stroke="#000" stroke-width="1.6"/>
<circle cx="1570.78" cy="108.7" r="1.95" fill="#8172b3" stroke="#000" stroke-width="1.6"/>
<circle cx="1572.78" cy="113.2" r="1.95" fill="#8172b3" stroke="#000" stroke-width="1.6"/>
<circle cx="1572.78" cy="121.4" r="1.95" fill="#8172b3" stroke="#000" stroke-width="1.6"/>
<circle cx="1572.78" cy="128.7" r="1.95" fill="#8172b3" stroke="#000" stroke-width="1.6"/>
<circle cx="1597.38" cy="104.1" r="1.95" fill="#937860" stroke="#000" stroke-width="1.6"/>
<circle cx="1594.38" cy="114.9" r="1.95" fill="#937860" stroke="#000" stroke-width="1.6"/>
<circle cx="1597.38" cy="116.7" r="1.95" fill="#937860" stroke="#000" stroke-width="1.6"/>
<circle cx="1597.38" cy="125.2" r="1.95" fill="#937860" stroke="#000" stroke-width="1.6"/>
<circle cx="1597.38" cy="129" r="1.95" fill="#937860" stroke="#000" stroke-width="1.6"/>
<circle cx="1621.98" cy="77.8" r="1.95" fill="#da8bc3" stroke="#000" stroke-width="1.6"/>
<circle cx="1621.98" cy="95.2" r="1.95" fill="#da8bc3" stroke="#000" stroke-width="1.6"/>
<circle cx="1618.98" cy="101" r="1.95" fill="#da8bc3" stroke="#000" stroke-width="1.6"/>
<circle cx="1621.98" cy="101.5" r="1.95" fill="#da8bc3" stroke="#000" stroke-width="1.6"/>
<circle cx="1621.98" cy="108.5" r="1.95" fill="#da8bc3" stroke="#000" stroke-width="1.6"/>
</g>
<g id="pb">
<line x1="120.5" y1="997" x2="120.5" y2="1742.5" stroke="#000" stroke-width="1.0"/>
<line x1="120.5" y1="1742.5" x2="885.8" y2="1742.5" stroke="#000" stroke-width="1.0"/>
<line x1="110.3" y1="1669.3" x2="120.5" y2="1669.3" stroke="#1a1a1a" stroke-width="1.0"/>
<text x="99.8" y="1677.8" text-anchor="end" font-size="27.3">0.50</text>
<line x1="110.3" y1="1577.97" x2="120.5" y2="1577.97" stroke="#1a1a1a" stroke-width="1.0"/>
<text x="99.8" y="1586.47" text-anchor="end" font-size="27.3">0.55</text>
<line x1="110.3" y1="1486.64" x2="120.5" y2="1486.64" stroke="#1a1a1a" stroke-width="1.0"/>
<text x="99.8" y="1495.14" text-anchor="end" font-size="27.3">0.60</text>
<line x1="110.3" y1="1395.31" x2="120.5" y2="1395.31" stroke="#1a1a1a" stroke-width="1.0"/>
<text x="99.8" y="1403.81" text-anchor="end" font-size="27.3">0.65</text>
<line x1="110.3" y1="1303.98" x2="120.5" y2="1303.98" stroke="#1a1a1a" stroke-width="1.0"/>
<text x="99.8" y="1312.48" text-anchor="end" font-size="27.3">0.70</text>
<line x1="110.3" y1="1212.65" x2="120.5" y2="1212.65" stroke="#1a1a1a" stroke-width="1.0"/>
<text x="99.8" y="1221.15" text-anchor="end" font-size="27.3">0.75</text>
<line x1="110.3" y1="1121.32" x2="120.5" y2="1121.32" stroke="#1a1a1a" stroke-width="1.0"/>
<text x="99.8" y="1129.82" text-anchor="end" font-size="27.3">0.80</text>
<line x1="110.3" y1="1029.99" x2="120.5" y2="1029.99" stroke="#1a1a1a" stroke-width="1.0"/>
<text x="99.8" y="1038.49" text-anchor="end" font-size="27.3">0.85</text>
<line x1="177.7" y1="1742.5" x2="177.7" y2="1752.7" stroke="#1a1a1a" stroke-width="1.0"/>
<text x="177.7" y="1783.3" text-anchor="middle" font-size="27.3">25</text>
<line x1="286.68" y1="1742.5" x2="286.68" y2="1752.7" stroke="#1a1a1a" stroke-width="1.0"/>
<text x="286.68" y="1783.3" text-anchor="middle" font-size="27.3">50</text>
<line x1="395.66" y1="1742.5" x2="395.66" y2="1752.7" stroke="#1a1a1a" stroke-width="1.0"/>
<text x="395.66" y="1783.3" text-anchor="middle" font-size="27.3">100</text>
<line x1="504.64" y1="1742.5" x2="504.64" y2="1752.7" stroke="#1a1a1a" stroke-width="1.0"/>
<text x="504.64" y="1783.3" text-anchor="middle" font-size="27.3">200</text>
<line x1="613.62" y1="1742.5" x2="613.62" y2="1752.7" stroke="#1a1a1a" stroke-width="1.0"/>
<text x="613.62" y="1783.3" text-anchor="middle" font-size="27.3">300</text>
<line x1="722.6" y1="1742.5" x2="722.6" y2="1752.7" stroke="#1a1a1a" stroke-width="1.0"/>
<text x="722.6" y="1783.3" text-anchor="middle" font-size="27.3">400</text>
<line x1="831.58" y1="1742.5" x2="831.58" y2="1752.7" stroke="#1a1a1a" stroke-width="1.0"/>
<text x="831.58" y="1783.3" text-anchor="middle" font-size="27.3">All</text>
<text x="502.1" y="1828.6" text-anchor="middle" font-size="27.2">Number of patients per cohort</text>
<text transform="translate(22.1,1370.2) rotate(-90)" text-anchor="middle" font-size="27.3">AUROC</text>
<text x="512.7" y="982.2" text-anchor="middle" font-size="27.3">MSI in QUASAR</text>
<rect x="639.8" y="1475.7" width="47.5" height="16.6" fill="#5875a4" stroke="#555" stroke-width="1.2"/>
<text x="701.2" y="1493" font-size="27.2">Epi700</text>
<rect x="639.8" y="1509.48" width="47.5" height="16.6" fill="#cc8963" stroke="#555" stroke-width="1.2"/>
<text x="701.2" y="1526.78" font-size="27.2">DACHS</text>
<rect x="639.8" y="1543.26" width="47.5" height="16.6" fill="#5f9e6e" stroke="#555" stroke-width="1.2"/>
<text x="701.2" y="1560.56" font-size="27.2">TCGA</text>
<rect x="639.8" y="1577.04" width="47.5" height="16.6" fill="#b55d60" stroke="#555" stroke-width="1.2"/>
<text x="701.2" y="1594.34" font-size="27.2">Merged</text>
<rect x="639.8" y="1610.82" width="47.5" height="16.6" fill="#857aab" stroke="#555" stroke-width="1.2"/>
<text x="701.2" y="1628.12" font-size="27.2">b-chkpt1</text>
<rect x="639.8" y="1644.6" width="47.5" height="16.6" fill="#8d7866" stroke="#555" stroke-width="1.2"/>
<text x="701.2" y="1661.9" font-size="27.2">b-chkpt2</text>
<rect x="639.8" y="1678.38" width="47.5" height="16.6" fill="#d095bf" stroke="#555" stroke-width="1.2"/>
<text x="701.2" y="1695.68" font-size="27.2">w-chkpt</text>
<line x1="137.4" y1="1441.4" x2="137.4" y2="1470.2" class="w"/>
<line x1="134.35" y1="1470.2" x2="140.45" y2="1470.2" class="w"/>
<rect x="131.3" y="1365.8" width="12.2" height="75.6" fill="#5875a4" class="b"/>
<line x1="131.3" y1="1381.3" x2="143.5" y2="1381.3" class="m"/>
<line x1="149.9" y1="1443.2" x2="149.9" y2="1461.9" class="w"/>
<line x1="146.85" y1="1443.2" x2="152.95" y2="1443.2" class="w"/>
<rect x="143.8" y="1461.9" width="12.2" height="45.8" fill="#cc8963" class="b"/>
<line x1="143.8" y1="1475.8" x2="156" y2="1475.8" class="m"/>
<line x1="162.4" y1="1487.2" x2="162.4" y2="1499.4" class="w"/>
<line x1="159.35" y1="1487.2" x2="165.45" y2="1487.2" class="w"/>
<line x1="162.4" y1="1583.2" x2="162.4" y2="1708.8" class="w"/>
<line x1="159.35" y1="1708.8" x2="165.45" y2="1708.8" class="w"/>
<rect x="156.3" y="1499.4" width="12.2" height="83.8" fill="#5f9e6e" class="b"/>
<line x1="156.3" y1="1563.6" x2="168.5" y2="1563.6" class="m"/>
<line x1="174.9" y1="1381.6" x2="174.9" y2="1401.3" class="w"/>
<line x1="171.85" y1="1381.6" x2="177.95" y2="1381.6" class="w"/>
<line x1="174.9" y1="1458.2" x2="174.9" y2="1468.9" class="w"/>
<line x1="171.85" y1="1468.9" x2="177.95" y2="1468.9" class="w"/>
<rect x="168.8" y="1401.3" width="12.2" height="56.9" fill="#b55d60" class="b"/>
<line x1="168.8" y1="1409.6" x2="181" y2="1409.6" class="m"/>
<line x1="187.4" y1="1454.8" x2="187.4" y2="1480.6" class="w"/>
<line x1="184.35" y1="1480.6" x2="190.45" y2="1480.6" class="w"/>
<rect x="181.3" y="1406.5" width="12.2" height="48.3" fill="#857aab" class="b"/>
<line x1="181.3" y1="1420.3" x2="193.5" y2="1420.3" class="m"/>
<rect x="193.8" y="1454.9" width="12.2" height="25.7" fill="#8d7866" class="b"/>
<line x1="193.8" y1="1454.9" x2="206" y2="1454.9" class="m"/>
<line x1="212.4" y1="1376.9" x2="212.4" y2="1389.8" class="w"/>
<line x1="209.35" y1="1376.9" x2="215.45" y2="1376.9" class="w"/>
<line x1="212.4" y1="1448.8" x2="212.4" y2="1452.9" class="w"/>
<line x1="209.35" y1="1452.9" x2="215.45" y2="1452.9" class="w"/>
<rect x="206.3" y="1389.8" width="12.2" height="59" fill="#d095bf" class="b"/>
<line x1="206.3" y1="1440.1" x2="218.5" y2="1440.1" class="m"/>
<line x1="246.67" y1="1260.7" x2="246.67" y2="1272.5" class="w"/>
<line x1="243.62" y1="1260.7" x2="249.72" y2="1260.7" class="w"/>
<line x1="246.67" y1="1374.4" x2="246.67" y2="1444.6" class="w"/>
<line x1="243.62" y1="1444.6" x2="249.72" y2="1444.6" class="w"/>
<rect x="240.57" y="1272.5" width="12.2" height="101.9" fill="#5875a4" class="b"/>
<line x1="240.57" y1="1318.1" x2="252.77" y2="1318.1" class="m"/>
<line x1="259.17" y1="1363.2" x2="259.17" y2="1396.4" class="w"/>
<line x1="256.12" y1="1363.2" x2="262.22" y2="1363.2" class="w"/>
<line x1="259.17" y1="1460.6" x2="259.17" y2="1501.8" class="w"/>
<line x1="256.12" y1="1501.8" x2="262.22" y2="1501.8" class="w"/>
<rect x="253.07" y="1396.4" width="12.2" height="64.2" fill="#cc8963" class="b"/>
<line x1="253.07" y1="1412.2" x2="265.27" y2="1412.2" class="m"/>
<line x1="271.67" y1="1468.7" x2="271.67" y2="1477.5" class="w"/>
<line x1="268.62" y1="1477.5" x2="274.72" y2="1477.5" class="w"/>
<rect x="265.57" y="1422.3" width="12.2" height="46.4" fill="#5f9e6e" class="b"/>
<line x1="265.57" y1="1440.3" x2="277.77" y2="1440.3" class="m"/>
<line x1="284.17" y1="1267.8" x2="284.17" y2="1276.4" class="w"/>
<line x1="281.12" y1="1267.8" x2="287.22" y2="1267.8" class="w"/>
<line x1="284.17" y1="1359.5" x2="284.17" y2="1431.4" class="w"/>
<line x1="281.12" y1="1431.4" x2="287.22" y2="1431.4" class="w"/>
<rect x="278.07" y="1276.4" width="12.2" height="83.1" fill="#b55d60" class="b"/>
<line x1="278.07" y1="1324.8" x2="290.27" y2="1324.8" class="m"/>
<line x1="296.67" y1="1337.1" x2="296.67" y2="1368.3" class="w"/>
<line x1="293.62" y1="1337.1" x2="299.72" y2="1337.1" class="w"/>
<line x1="296.67" y1="1401.7" x2="296.67" y2="1425" class="w"/>
<line x1="293.62" y1="1425" x2="299.72" y2="1425" class="w"/>
<rect x="290.57" y="1368.3" width="12.2" height="33.4" fill="#857aab" class="b"/>
<line x1="290.57" y1="1382.1" x2="302.77" y2="1382.1" class="m"/>
<rect x="303.07" y="1406.9" width="12.2" height="7.5" fill="#8d7866" class="b"/>
<line x1="303.07" y1="1410.5" x2="315.27" y2="1410.5" class="m"/>
<line x1="321.67" y1="1416.7" x2="321.67" y2="1432.6" class="w"/>
<line x1="318.62" y1="1432.6" x2="324.72" y2="1432.6" class="w"/>
<rect x="315.57" y="1391.6" width="12.2" height="25.1" fill="#d095bf" class="b"/>
<line x1="315.57" y1="1404.2" x2="327.77" y2="1404.2" class="m"/>
<line x1="355.94" y1="1226.1" x2="355.94" y2="1281.7" class="w"/>
<line x1="352.89" y1="1226.1" x2="358.99" y2="1226.1" class="w"/>
<line x1="355.94" y1="1345.6" x2="355.94" y2="1355" class="w"/>
<line x1="352.89" y1="1355" x2="358.99" y2="1355" class="w"/>
<rect x="349.84" y="1281.7" width="12.2" height="63.9" fill="#5875a4" class="b"/>
<line x1="349.84" y1="1288.6" x2="362.04" y2="1288.6" class="m"/>
<line x1="368.44" y1="1402.4" x2="368.44" y2="1433" class="w"/>
<line x1="365.39" y1="1433" x2="371.49" y2="1433" class="w"/>
<rect x="362.34" y="1381.5" width="12.2" height="20.9" fill="#cc8963" class="b"/>
<line x1="362.34" y1="1395.9" x2="374.54" y2="1395.9" class="m"/>
<line x1="380.94" y1="1257.2" x2="380.94" y2="1339.2" class="w"/>
<line x1="377.89" y1="1257.2" x2="383.99" y2="1257.2" class="w"/>
<line x1="380.94" y1="1429.9" x2="380.94" y2="1461.9" class="w"/>
<line x1="377.89" y1="1461.9" x2="383.99" y2="1461.9" class="w"/>
<rect x="374.84" y="1339.2" width="12.2" height="90.7" fill="#5f9e6e" class="b"/>
<line x1="374.84" y1="1411" x2="387.04" y2="1411" class="m"/>
<line x1="393.44" y1="1260.7" x2="393.44" y2="1289.7" class="w"/>
<line x1="390.39" y1="1289.7" x2="396.49" y2="1289.7" class="w"/>
<rect x="387.34" y="1230.5" width="12.2" height="30.2" fill="#b55d60" class="b"/>
<line x1="387.34" y1="1234.5" x2="399.54" y2="1234.5" class="m"/>
<line x1="405.94" y1="1274.6" x2="405.94" y2="1292" class="w"/>
<line x1="402.89" y1="1274.6" x2="408.99" y2="1274.6" class="w"/>
<line x1="405.94" y1="1352.7" x2="405.94" y2="1385.9" class="w"/>
<line x1="402.89" y1="1385.9" x2="408.99" y2="1385.9" class="w"/>
<rect x="399.84" y="1292" width="12.2" height="60.7" fill="#857aab" class="b"/>
<line x1="399.84" y1="1340.7" x2="412.04" y2="1340.7" class="m"/>
<line x1="418.44" y1="1356.1" x2="418.44" y2="1360.1" class="w"/>
<line x1="415.39" y1="1360.1" x2="421.49" y2="1360.1" class="w"/>
<rect x="412.34" y="1332.1" width="12.2" height="24" fill="#8d7866" class="b"/>
<line x1="412.34" y1="1347.2" x2="424.54" y2="1347.2" class="m"/>
<line x1="430.94" y1="1288" x2="430.94" y2="1308.3" class="w"/>
<line x1="427.89" y1="1308.3" x2="433.99" y2="1308.3" class="w"/>
<rect x="424.84" y="1272" width="12.2" height="16" fill="#d095bf" class="b"/>
<line x1="424.84" y1="1273.7" x2="437.04" y2="1273.7" class="m"/>
<line x1="465.21" y1="1256.3" x2="465.21" y2="1272.2" class="w"/>
<line x1="462.16" y1="1256.3" x2="468.26" y2="1256.3" class="w"/>
<line x1="465.21" y1="1323.4" x2="465.21" y2="1331.6" class="w"/>
<line x1="462.16" y1="1331.6" x2="468.26" y2="1331.6" class="w"/>
<rect x="459.11" y="1272.2" width="12.2" height="51.2" fill="#5875a4" class="b"/>
<line x1="459.11" y1="1278.6" x2="471.31" y2="1278.6" class="m"/>
<rect x="471.61" y="1285.9" width="12.2" height="87.8" fill="#cc8963" class="b"/>
<line x1="471.61" y1="1364.1" x2="483.81" y2="1364.1" class="m"/>
<line x1="490.21" y1="1214.3" x2="490.21" y2="1242.5" class="w"/>
<line x1="487.16" y1="1214.3" x2="493.26" y2="1214.3" class="w"/>
<line x1="490.21" y1="1287.1" x2="490.21" y2="1341.9" class="w"/>
<line x1="487.16" y1="1341.9" x2="493.26" y2="1341.9" class="w"/>
<rect x="484.11" y="1242.5" width="12.2" height="44.6" fill="#5f9e6e" class="b"/>
<line x1="484.11" y1="1254.8" x2="496.31" y2="1254.8" class="m"/>
<line x1="502.71" y1="1111.5" x2="502.71" y2="1125.4" class="w"/>
<line x1="499.66" y1="1111.5" x2="505.76" y2="1111.5" class="w"/>
<line x1="502.71" y1="1151.7" x2="502.71" y2="1155.5" class="w"/>
<line x1="499.66" y1="1155.5" x2="505.76" y2="1155.5" class="w"/>
<rect x="496.61" y="1125.4" width="12.2" height="26.3" fill="#b55d60" class="b"/>
<line x1="496.61" y1="1126.5" x2="508.81" y2="1126.5" class="m"/>
<line x1="515.21" y1="1258" x2="515.21" y2="1262.9" class="w"/>
<line x1="512.16" y1="1262.9" x2="518.26" y2="1262.9" class="w"/>
<rect x="509.11" y="1235.9" width="12.2" height="22.1" fill="#857aab" class="b"/>
<line x1="509.11" y1="1241.8" x2="521.31" y2="1241.8" class="m"/>
<rect x="521.61" y="1202.5" width="12.2" height="23.6" fill="#8d7866" class="b"/>
<line x1="521.61" y1="1217.9" x2="533.81" y2="1217.9" class="m"/>
<rect x="534.11" y="1185.5" width="12.2" height="21.2" fill="#d095bf" class="b"/>
<line x1="534.11" y1="1200.5" x2="546.31" y2="1200.5" class="m"/>
<line x1="574.48" y1="1186.3" x2="574.48" y2="1194.6" class="w"/>
<line x1="571.43" y1="1186.3" x2="577.53" y2="1186.3" class="w"/>
<line x1="574.48" y1="1239.7" x2="574.48" y2="1258.2" class="w"/>
<line x1="571.43" y1="1258.2" x2="577.53" y2="1258.2" class="w"/>
<rect x="568.38" y="1194.6" width="12.2" height="45.1" fill="#5875a4" class="b"/>
<line x1="568.38" y1="1200.1" x2="580.58" y2="1200.1" class="m"/>
<line x1="586.98" y1="1275.7" x2="586.98" y2="1279.8" class="w"/>
<line x1="583.93" y1="1275.7" x2="590.03" y2="1275.7" class="w"/>
<line x1="586.98" y1="1312.1" x2="586.98" y2="1316" class="w"/>
<line x1="583.93" y1="1316" x2="590.03" y2="1316" class="w"/>
<rect x="580.88" y="1279.8" width="12.2" height="32.3" fill="#cc8963" class="b"/>
<line x1="580.88" y1="1301.6" x2="593.08" y2="1301.6" class="m"/>
<line x1="599.48" y1="1152.1" x2="599.48" y2="1188.3" class="w"/>
<line x1="596.43" y1="1152.1" x2="602.53" y2="1152.1" class="w"/>
<rect x="593.38" y="1188.3" width="12.2" height="47.5" fill="#5f9e6e" class="b"/>
<line x1="593.38" y1="1235.5" x2="605.58" y2="1235.5" class="m"/>
<line x1="611.98" y1="1061.8" x2="611.98" y2="1107.4" class="w"/>
<line x1="608.93" y1="1061.8" x2="615.03" y2="1061.8" class="w"/>
<line x1="611.98" y1="1146.7" x2="611.98" y2="1158" class="w"/>
<line x1="608.93" y1="1158" x2="615.03" y2="1158" class="w"/>
<rect x="605.88" y="1107.4" width="12.2" height="39.3" fill="#b55d60" class="b"/>
<line x1="605.88" y1="1107.4" x2="618.08" y2="1107.4" class="m"/>
<line x1="624.48" y1="1193" x2="624.48" y2="1201.5" class="w"/>
<line x1="621.43" y1="1193" x2="627.53" y2="1193" class="w"/>
<line x1="624.48" y1="1215.1" x2="624.48" y2="1220" class="w"/>
<line x1="621.43" y1="1220" x2="627.53" y2="1220" class="w"/>
<rect x="618.38" y="1201.5" width="12.2" height="13.6" fill="#857aab" class="b"/>
<line x1="618.38" y1="1213.8" x2="630.58" y2="1213.8" class="m"/>
<line x1="636.98" y1="1136.2" x2="636.98" y2="1153.7" class="w"/>
<line x1="633.93" y1="1136.2" x2="640.03" y2="1136.2" class="w"/>
<line x1="636.98" y1="1180" x2="636.98" y2="1213.5" class="w"/>
<line x1="633.93" y1="1213.5" x2="640.03" y2="1213.5" class="w"/>
<rect x="630.88" y="1153.7" width="12.2" height="26.3" fill="#8d7866" class="b"/>
<line x1="630.88" y1="1166.8" x2="643.08" y2="1166.8" class="m"/>
<line x1="649.48" y1="1094.7" x2="649.48" y2="1107.4" class="w"/>
<line x1="646.43" y1="1094.7" x2="652.53" y2="1094.7" class="w"/>
<line x1="649.48" y1="1157" x2="649.48" y2="1163.3" class="w"/>
<line x1="646.43" y1="1163.3" x2="652.53" y2="1163.3" class="w"/>
<rect x="643.38" y="1107.4" width="12.2" height="49.6" fill="#d095bf" class="b"/>
<line x1="643.38" y1="1150.1" x2="655.58" y2="1150.1" class="m"/>
<line x1="683.75" y1="1136.6" x2="683.75" y2="1185.4" class="w"/>
<line x1="680.7" y1="1136.6" x2="686.8" y2="1136.6" class="w"/>
<rect x="677.65" y="1185.4" width="12.2" height="48.1" fill="#5875a4" class="b"/>
<line x1="677.65" y1="1206" x2="689.85" y2="1206" class="m"/>
<line x1="696.25" y1="1281.6" x2="696.25" y2="1284.9" class="w"/>
<line x1="693.2" y1="1281.6" x2="699.3" y2="1281.6" class="w"/>
<line x1="696.25" y1="1314.5" x2="696.25" y2="1339.5" class="w"/>
<line x1="693.2" y1="1339.5" x2="699.3" y2="1339.5" class="w"/>
<rect x="690.15" y="1284.9" width="12.2" height="29.6" fill="#cc8963" class="b"/>
<line x1="690.15" y1="1313.3" x2="702.35" y2="1313.3" class="m"/>
<rect x="702.65" y="1213.4" width="12.2" height="8.5" fill="#5f9e6e" class="b"/>
<line x1="702.65" y1="1217.6" x2="714.85" y2="1217.6" class="m"/>
<rect x="715.15" y="1101" width="12.2" height="18.7" fill="#b55d60" class="b"/>
<line x1="715.15" y1="1117.7" x2="727.35" y2="1117.7" class="m"/>
<line x1="733.75" y1="1149.3" x2="733.75" y2="1173.2" class="w"/>
<line x1="730.7" y1="1149.3" x2="736.8" y2="1149.3" class="w"/>
<line x1="733.75" y1="1196.3" x2="733.75" y2="1201" class="w"/>
<line x1="730.7" y1="1201" x2="736.8" y2="1201" class="w"/>
<rect x="727.65" y="1173.2" width="12.2" height="23.1" fill="#857aab" class="b"/>
<line x1="727.65" y1="1175.6" x2="739.85" y2="1175.6" class="m"/>
<line x1="746.25" y1="1162.4" x2="746.25" y2="1166.3" class="w"/>
<line x1="743.2" y1="1166.3" x2="749.3" y2="1166.3" class="w"/>
<rect x="740.15" y="1156" width="12.2" height="6.4" fill="#8d7866" class="b"/>
<line x1="740.15" y1="1159.3" x2="752.35" y2="1159.3" class="m"/>
<line x1="758.75" y1="1098.1" x2="758.75" y2="1107.9" class="w"/>
<line x1="755.7" y1="1098.1" x2="761.8" y2="1098.1" class="w"/>
<rect x="752.65" y="1107.9" width="12.2" height="9.8" fill="#d095bf" class="b"/>
<line x1="752.65" y1="1109.9" x2="764.85" y2="1109.9" class="m"/>
<line x1="793.02" y1="1131.7" x2="793.02" y2="1137.3" class="w"/>
<line x1="789.97" y1="1131.7" x2="796.07" y2="1131.7" class="w"/>
<line x1="793.02" y1="1144.8" x2="793.02" y2="1153" class="w"/>
<line x1="789.97" y1="1153" x2="796.07" y2="1153" class="w"/>
<rect x="786.92" y="1137.3" width="12.2" height="7.5" fill="#5875a4" class="b"/>
<line x1="786.92" y1="1142.7" x2="799.12" y2="1142.7" class="m"/>
<line x1="805.52" y1="1128.9" x2="805.52" y2="1133.6" class="w"/>
<line x1="802.47" y1="1128.9" x2="808.57" y2="1128.9" class="w"/>
<line x1="805.52" y1="1151.8" x2="805.52" y2="1174.4" class="w"/>
<line x1="802.47" y1="1174.4" x2="808.57" y2="1174.4" class="w"/>
<rect x="799.42" y="1133.6" width="12.2" height="18.2" fill="#cc8963" class="b"/>
<line x1="799.42" y1="1141.4" x2="811.62" y2="1141.4" class="m"/>
<line x1="818.02" y1="1175.8" x2="818.02" y2="1183.4" class="w"/>
<line x1="814.97" y1="1175.8" x2="821.07" y2="1175.8" class="w"/>
<line x1="818.02" y1="1190.7" x2="818.02" y2="1195.7" class="w"/>
<line x1="814.97" y1="1195.7" x2="821.07" y2="1195.7" class="w"/>
<rect x="811.92" y="1183.4" width="12.2" height="7.3" fill="#5f9e6e" class="b"/>
<line x1="811.92" y1="1187.3" x2="824.12" y2="1187.3" class="m"/>
<line x1="830.52" y1="1031.3" x2="830.52" y2="1048.5" class="w"/>
<line x1="827.47" y1="1031.3" x2="833.57" y2="1031.3" class="w"/>
<rect x="824.42" y="1048.5" width="12.2" height="25.3" fill="#b55d60" class="b"/>
<line x1="824.42" y1="1048.5" x2="836.62" y2="1048.5" class="m"/>
<line x1="843.02" y1="1132.9" x2="843.02" y2="1138.3" class="w"/>
<line x1="839.97" y1="1138.3" x2="846.07" y2="1138.3" class="w"/>
<rect x="836.92" y="1111.3" width="12.2" height="21.6" fill="#857aab" class="b"/>
<line x1="836.92" y1="1111.3" x2="849.12" y2="1111.3" class="m"/>
<line x1="855.52" y1="1101.9" x2="855.52" y2="1109.5" class="w"/>
<line x1="852.47" y1="1109.5" x2="858.57" y2="1109.5" class="w"/>
<rect x="849.42" y="1080.1" width="12.2" height="21.8" fill="#8d7866" class="b"/>
<line x1="849.42" y1="1093.6" x2="861.62" y2="1093.6" class="m"/>
<line x1="868.02" y1="1069.6" x2="868.02" y2="1080.4" class="w"/>
<line x1="864.97" y1="1080.4" x2="871.07" y2="1080.4" class="w"/>
<rect x="861.92" y="1060" width="12.2" height="9.6" fill="#d095bf" class="b"/>
<line x1="861.92" y1="1061.2" x2="874.12" y2="1061.2" class="m"/>
<circle cx="137.4" cy="1252.2" r="1.85" fill="#4c72b0" stroke="#000" stroke-width="1.5"/>
<circle cx="137.4" cy="1365.8" r="1.85" fill="#4c72b0" stroke="#000" stroke-width="1.5"/>
<circle cx="137.4" cy="1381.3" r="1.85" fill="#4c72b0" stroke="#000" stroke-width="1.5"/>
<circle cx="137.4" cy="1441.4" r="1.85" fill="#4c72b0" stroke="#000" stroke-width="1.5"/>
<circle cx="137.4" cy="1470.2" r="1.85" fill="#4c72b0" stroke="#000" stroke-width="1.5"/>
<circle cx="149.9" cy="1443.2" r="1.85" fill="#dd8452" stroke="#000" stroke-width="1.5"/>
<circle cx="149.9" cy="1461.9" r="1.85" fill="#dd8452" stroke="#000" stroke-width="1.5"/>
<circle cx="149.9" cy="1475.8" r="1.85" fill="#dd8452" stroke="#000" stroke-width="1.5"/>
<circle cx="146.4" cy="1507.7" r="1.85" fill="#dd8452" stroke="#000" stroke-width="1.5"/>
<circle cx="149.9" cy="1507.7" r="1.85" fill="#dd8452" stroke="#000" stroke-width="1.5"/>
<circle cx="162.4" cy="1487.2" r="1.85" fill="#55a868" stroke="#000" stroke-width="1.5"/>
<circle cx="162.4" cy="1499.4" r="1.85" fill="#55a868" stroke="#000" stroke-width="1.5"/>
<circle cx="162.4" cy="1563.6" r="1.85" fill="#55a868" stroke="#000" stroke-width="1.5"/>
<circle cx="162.4" cy="1583.2" r="1.85" fill="#55a868" stroke="#000" stroke-width="1.5"/>
<circle cx="162.4" cy="1708.8" r="1.85" fill="#55a868" stroke="#000" stroke-width="1.5"/>
<circle cx="174.9" cy="1381.6" r="1.85" fill="#c44e52" stroke="#000" stroke-width="1.5"/>
<circle cx="174.9" cy="1401.3" r="1.85" fill="#c44e52" stroke="#000" stroke-width="1.5"/>
<circle cx="174.9" cy="1409.6" r="1.85" fill="#c44e52" stroke="#000" stroke-width="1.5"/>
<circle cx="174.9" cy="1458.2" r="1.85" fill="#c44e52" stroke="#000" stroke-width="1.5"/>
<circle cx="174.9" cy="1468.9" r="1.85" fill="#c44e52" stroke="#000" stroke-width="1.5"/>
<circle cx="184.4" cy="1405.9" r="1.85" fill="#8172b3" stroke="#000" stroke-width="1.5"/>
<circle cx="187.4" cy="1407.4" r="1.85" fill="#8172b3" stroke="#000" stroke-width="1.5"/>
<circle cx="187.4" cy="1420.3" r="1.85" fill="#8172b3" stroke="#000" stroke-width="1.5"/>
<circle cx="187.4" cy="1454.8" r="1.85" fill="#8172b3" stroke="#000" stroke-width="1.5"/>
<circle cx="187.4" cy="1480.6" r="1.85" fill="#8172b3" stroke="#000" stroke-width="1.5"/>
<circle cx="199.9" cy="1387.6" r="1.85" fill="#937860" stroke="#000" stroke-width="1.5"/>
<circle cx="196.9" cy="1454.9" r="1.85" fill="#937860" stroke="#000" stroke-width="1.5"/>
<circle cx="199.9" cy="1454.9" r="1.85" fill="#937860" stroke="#000" stroke-width="1.5"/>
<circle cx="199.9" cy="1480.6" r="1.85" fill="#937860" stroke="#000" stroke-width="1.5"/>
<circle cx="199.9" cy="1524.7" r="1.85" fill="#937860" stroke="#000" stroke-width="1.5"/>
<circle cx="212.4" cy="1376.9" r="1.85" fill="#da8bc3" stroke="#000" stroke-width="1.5"/>
<circle cx="212.4" cy="1389.8" r="1.85" fill="#da8bc3" stroke="#000" stroke-width="1.5"/>
<circle cx="212.4" cy="1440.1" r="1.85" fill="#da8bc3" stroke="#000" stroke-width="1.5"/>
<circle cx="212.4" cy="1448.8" r="1.85" fill="#da8bc3" stroke="#000" stroke-width="1.5"/>
<circle cx="212.4" cy="1452.9" r="1.85" fill="#da8bc3" stroke="#000" stroke-width="1.5"/>
<circle cx="246.67" cy="1260.7" r="1.85" fill="#4c72b0" stroke="#000" stroke-width="1.5"/>
<circle cx="246.67" cy="1272.5" r="1.85" fill="#4c72b0" stroke="#000" stroke-width="1.5"/>
<circle cx="246.67" cy="1318.1" r="1.85" fill="#4c72b0" stroke="#000" stroke-width="1.5"/>
<circle cx="246.67" cy="1374.4" r="1.85" fill="#4c72b0" stroke="#000" stroke-width="1.5"/>
<circle cx="246.67" cy="1444.6" r="1.85" fill="#4c72b0" stroke="#000" stroke-width="1.5"/>
<circle cx="259.17" cy="1363.2" r="1.85" fill="#dd8452" stroke="#000" stroke-width="1.5"/>
<circle cx="259.17" cy="1396.4" r="1.85" fill="#dd8452" stroke="#000" stroke-width="1.5"/>
<circle cx="259.17" cy="1412.2" r="1.85" fill="#dd8452" stroke="#000" stroke-width="1.5"/>
<circle cx="259.17" cy="1460.6" r="1.85" fill="#dd8452" stroke="#000" stroke-width="1.5"/>
<circle cx="259.17" cy="1501.8" r="1.85" fill="#dd8452" stroke="#000" stroke-width="1.5"/>
<circle cx="271.67" cy="1338.5" r="1.85" fill="#55a868" stroke="#000" stroke-width="1.5"/>
<circle cx="271.67" cy="1422.3" r="1.85" fill="#55a868" stroke="#000" stroke-width="1.5"/>
<circle cx="271.67" cy="1440.3" r="1.85" fill="#55a868" stroke="#000" stroke-width="1.5"/>
<circle cx="271.67" cy="1468.7" r="1.85" fill="#55a868" stroke="#000" stroke-width="1.5"/>
<circle cx="271.67" cy="1477.5" r="1.85" fill="#55a868" stroke="#000" stroke-width="1.5"/>
<circle cx="284.17" cy="1267.8" r="1.85" fill="#c44e52" stroke="#000" stroke-width="1.5"/>
<circle cx="284.17" cy="1276.4" r="1.85" fill="#c44e52" stroke="#000" stroke-width="1.5"/>
<circle cx="284.17" cy="1324.8" r="1.85" fill="#c44e52" stroke="#000" stroke-width="1.5"/>
<circle cx="284.17" cy="1359.5" r="1.85" fill="#c44e52" stroke="#000" stroke-width="1.5"/>
<circle cx="284.17" cy="1431.4" r="1.85" fill="#c44e52" stroke="#000" stroke-width="1.5"/>
<circle cx="296.67" cy="1337.1" r="1.85" fill="#8172b3" stroke="#000" stroke-width="1.5"/>
<circle cx="296.67" cy="1368.3" r="1.85" fill="#8172b3" stroke="#000" stroke-width="1.5"/>
<circle cx="296.67" cy="1382.1" r="1.85" fill="#8172b3" stroke="#000" stroke-width="1.5"/>
<circle cx="296.67" cy="1401.7" r="1.85" fill="#8172b3" stroke="#000" stroke-width="1.5"/>
<circle cx="296.67" cy="1425" r="1.85" fill="#8172b3" stroke="#000" stroke-width="1.5"/>
<circle cx="309.17" cy="1343.2" r="1.85" fill="#937860" stroke="#000" stroke-width="1.5"/>
<circle cx="306.17" cy="1406.9" r="1.85" fill="#937860" stroke="#000" stroke-width="1.5"/>
<circle cx="309.17" cy="1408.8" r="1.85" fill="#937860" stroke="#000" stroke-width="1.5"/>
<circle cx="309.17" cy="1414.3" r="1.85" fill="#937860" stroke="#000" stroke-width="1.5"/>
<circle cx="309.17" cy="1430.2" r="1.85" fill="#937860" stroke="#000" stroke-width="1.5"/>
<circle cx="321.67" cy="1319.9" r="1.85" fill="#da8bc3" stroke="#000" stroke-width="1.5"/>
<circle cx="321.67" cy="1391.6" r="1.85" fill="#da8bc3" stroke="#000" stroke-width="1.5"/>
<circle cx="321.67" cy="1404.2" r="1.85" fill="#da8bc3" stroke="#000" stroke-width="1.5"/>
<circle cx="321.67" cy="1416.7" r="1.85" fill="#da8bc3" stroke="#000" stroke-width="1.5"/>
<circle cx="321.67" cy="1432.6" r="1.85" fill="#da8bc3" stroke="#000" stroke-width="1.5"/>
<circle cx="355.94" cy="1226.1" r="1.85" fill="#4c72b0" stroke="#000" stroke-width="1.5"/>
<circle cx="355.94" cy="1281.7" r="1.85" fill="#4c72b0" stroke="#000" stroke-width="1.5"/>
<circle cx="355.94" cy="1288.6" r="1.85" fill="#4c72b0" stroke="#000" stroke-width="1.5"/>
<circle cx="355.94" cy="1345.6" r="1.85" fill="#4c72b0" stroke="#000" stroke-width="1.5"/>
<circle cx="355.94" cy="1355" r="1.85" fill="#4c72b0" stroke="#000" stroke-width="1.5"/>
<circle cx="368.44" cy="1309" r="1.85" fill="#dd8452" stroke="#000" stroke-width="1.5"/>
<circle cx="368.44" cy="1381.5" r="1.85" fill="#dd8452" stroke="#000" stroke-width="1.5"/>
<circle cx="368.44" cy="1395.9" r="1.85" fill="#dd8452" stroke="#000" stroke-width="1.5"/>
<circle cx="368.44" cy="1402.4" r="1.85" fill="#dd8452" stroke="#000" stroke-width="1.5"/>
<circle cx="368.44" cy="1433" r="1.85" fill="#dd8452" stroke="#000" stroke-width="1.5"/>
<circle cx="380.94" cy="1257.2" r="1.85" fill="#55a868" stroke="#000" stroke-width="1.5"/>
<circle cx="380.94" cy="1339.2" r="1.85" fill="#55a868" stroke="#000" stroke-width="1.5"/>
<circle cx="380.94" cy="1411" r="1.85" fill="#55a868" stroke="#000" stroke-width="1.5"/>
<circle cx="380.94" cy="1429.9" r="1.85" fill="#55a868" stroke="#000" stroke-width="1.5"/>
<circle cx="380.94" cy="1461.9" r="1.85" fill="#55a868" stroke="#000" stroke-width="1.5"/>
<circle cx="393.44" cy="1125.4" r="1.85" fill="#c44e52" stroke="#000" stroke-width="1.5"/>
<circle cx="393.44" cy="1230.5" r="1.85" fill="#c44e52" stroke="#000" stroke-width="1.5"/>
<circle cx="393.44" cy="1236.4" r="1.85" fill="#c44e52" stroke="#000" stroke-width="1.5"/>
<circle cx="393.44" cy="1260.7" r="1.85" fill="#c44e52" stroke="#000" stroke-width="1.5"/>
<circle cx="393.44" cy="1289.7" r="1.85" fill="#c44e52" stroke="#000" stroke-width="1.5"/>
<circle cx="405.94" cy="1274.6" r="1.85" fill="#8172b3" stroke="#000" stroke-width="1.5"/>
<circle cx="405.94" cy="1292" r="1.85" fill="#8172b3" stroke="#000" stroke-width="1.5"/>
<circle cx="405.94" cy="1340.7" r="1.85" fill="#8172b3" stroke="#000" stroke-width="1.5"/>
<circle cx="405.94" cy="1352.7" r="1.85" fill="#8172b3" stroke="#000" stroke-width="1.5"/>
<circle cx="405.94" cy="1385.9" r="1.85" fill="#8172b3" stroke="#000" stroke-width="1.5"/>
<circle cx="418.44" cy="1218.1" r="1.85" fill="#937860" stroke="#000" stroke-width="1.5"/>
<circle cx="418.44" cy="1332.1" r="1.85" fill="#937860" stroke="#000" stroke-width="1.5"/>
<circle cx="418.44" cy="1347.2" r="1.85" fill="#937860" stroke="#000" stroke-width="1.5"/>
<circle cx="418.44" cy="1356.1" r="1.85" fill="#937860" stroke="#000" stroke-width="1.5"/>
<circle cx="418.44" cy="1360.1" r="1.85" fill="#937860" stroke="#000" stroke-width="1.5"/>
<circle cx="430.94" cy="1189.3" r="1.85" fill="#da8bc3" stroke="#000" stroke-width="1.5"/>
<circle cx="430.94" cy="1272" r="1.85" fill="#da8bc3" stroke="#000" stroke-width="1.5"/>
<circle cx="430.94" cy="1275.4" r="1.85" fill="#da8bc3" stroke="#000" stroke-width="1.5"/>
<circle cx="430.94" cy="1288" r="1.85" fill="#da8bc3" stroke="#000" stroke-width="1.5"/>
<circle cx="430.94" cy="1308.3" r="1.85" fill="#da8bc3" stroke="#000" stroke-width="1.5"/>
<circle cx="465.21" cy="1256.3" r="1.85" fill="#4c72b0" stroke="#000" stroke-width="1.5"/>
<circle cx="465.21" cy="1272.2" r="1.85" fill="#4c72b0" stroke="#000" stroke-width="1.5"/>
<circle cx="465.21" cy="1278.6" r="1.85" fill="#4c72b0" stroke="#000" stroke-width="1.5"/>
<circle cx="465.21" cy="1323.4" r="1.85" fill="#4c72b0" stroke="#000" stroke-width="1.5"/>
<circle cx="465.21" cy="1331.6" r="1.85" fill="#4c72b0" stroke="#000" stroke-width="1.5"/>
<circle cx="474.71" cy="1285" r="1.85" fill="#dd8452" stroke="#000" stroke-width="1.5"/>
<circle cx="477.71" cy="1287.4" r="1.85" fill="#dd8452" stroke="#000" stroke-width="1.5"/>
<circle cx="477.71" cy="1364.1" r="1.85" fill="#dd8452" stroke="#000" stroke-width="1.5"/>
<circle cx="474.21" cy="1373.7" r="1.85" fill="#dd8452" stroke="#000" stroke-width="1.5"/>
<circle cx="477.71" cy="1373.7" r="1.85" fill="#dd8452" stroke="#000" stroke-width="1.5"/>
<circle cx="490.21" cy="1214.3" r="1.85" fill="#55a868" stroke="#000" stroke-width="1.5"/>
<circle cx="490.21" cy="1242.5" r="1.85" fill="#55a868" stroke="#000" stroke-width="1.5"/>
<circle cx="490.21" cy="1254.8" r="1.85" fill="#55a868" stroke="#000" stroke-width="1.5"/>
<circle cx="490.21" cy="1287.1" r="1.85" fill="#55a868" stroke="#000" stroke-width="1.5"/>
<circle cx="490.21" cy="1341.9" r="1.85" fill="#55a868" stroke="#000" stroke-width="1.5"/>
<circle cx="502.71" cy="1111.5" r="1.85" fill="#c44e52" stroke="#000" stroke-width="1.5"/>
<circle cx="499.71" cy="1125.8" r="1.85" fill="#c44e52" stroke="#000" stroke-width="1.5"/>
<circle cx="502.71" cy="1127.1" r="1.85" fill="#c44e52" stroke="#000" stroke-width="1.5"/>
<circle cx="502.71" cy="1151.7" r="1.85" fill="#c44e52" stroke="#000" stroke-width="1.5"/>
<circle cx="502.71" cy="1155.5" r="1.85" fill="#c44e52" stroke="#000" stroke-width="1.5"/>
<circle cx="515.21" cy="1197.8" r="1.85" fill="#8172b3" stroke="#000" stroke-width="1.5"/>
<circle cx="515.21" cy="1235.9" r="1.85" fill="#8172b3" stroke="#000" stroke-width="1.5"/>
<circle cx="515.21" cy="1241.8" r="1.85" fill="#8172b3" stroke="#000" stroke-width="1.5"/>
<circle cx="515.21" cy="1258" r="1.85" fill="#8172b3" stroke="#000" stroke-width="1.5"/>
<circle cx="515.21" cy="1262.9" r="1.85" fill="#8172b3" stroke="#000" stroke-width="1.5"/>
<circle cx="527.71" cy="1128.9" r="1.85" fill="#937860" stroke="#000" stroke-width="1.5"/>
<circle cx="527.71" cy="1202.5" r="1.85" fill="#937860" stroke="#000" stroke-width="1.5"/>
<circle cx="527.71" cy="1217.9" r="1.85" fill="#937860" stroke="#000" stroke-width="1.5"/>
<circle cx="527.71" cy="1226.1" r="1.85" fill="#937860" stroke="#000" stroke-width="1.5"/>
<circle cx="527.71" cy="1277.8" r="1.85" fill="#937860" stroke="#000" stroke-width="1.5"/>
<circle cx="540.21" cy="1129.4" r="1.85" fill="#da8bc3" stroke="#000" stroke-width="1.5"/>
<circle cx="540.21" cy="1185.5" r="1.85" fill="#da8bc3" stroke="#000" stroke-width="1.5"/>
<circle cx="540.21" cy="1200.5" r="1.85" fill="#da8bc3" stroke="#000" stroke-width="1.5"/>
<circle cx="540.21" cy="1206.7" r="1.85" fill="#da8bc3" stroke="#000" stroke-width="1.5"/>
<circle cx="540.21" cy="1272.2" r="1.85" fill="#da8bc3" stroke="#000" stroke-width="1.5"/>
<circle cx="574.48" cy="1186.3" r="1.85" fill="#4c72b0" stroke="#000" stroke-width="1.5"/>
<circle cx="574.48" cy="1194.6" r="1.85" fill="#4c72b0" stroke="#000" stroke-width="1.5"/>
<circle cx="574.48" cy="1200.1" r="1.85" fill="#4c72b0" stroke="#000" stroke-width="1.5"/>
<circle cx="574.48" cy="1239.7" r="1.85" fill="#4c72b0" stroke="#000" stroke-width="1.5"/>
<circle cx="574.48" cy="1258.2" r="1.85" fill="#4c72b0" stroke="#000" stroke-width="1.5"/>
<circle cx="586.98" cy="1275.7" r="1.85" fill="#dd8452" stroke="#000" stroke-width="1.5"/>
<circle cx="586.98" cy="1279.8" r="1.85" fill="#dd8452" stroke="#000" stroke-width="1.5"/>
<circle cx="586.98" cy="1301.6" r="1.85" fill="#dd8452" stroke="#000" stroke-width="1.5"/>
<circle cx="586.98" cy="1312.1" r="1.85" fill="#dd8452" stroke="#000" stroke-width="1.5"/>
<circle cx="586.98" cy="1316" r="1.85" fill="#dd8452" stroke="#000" stroke-width="1.5"/>
<circle cx="599.48" cy="1152.1" r="1.85" fill="#55a868" stroke="#000" stroke-width="1.5"/>
<circle cx="599.48" cy="1188.3" r="1.85" fill="#55a868" stroke="#000" stroke-width="1.5"/>
<circle cx="595.98" cy="1235.3" r="1.85" fill="#55a868" stroke="#000" stroke-width="1.5"/>
<circle cx="599.48" cy="1236.8" r="1.85" fill="#55a868" stroke="#000" stroke-width="1.5"/>
<circle cx="602.48" cy="1233.8" r="1.85" fill="#55a868" stroke="#000" stroke-width="1.5"/>
<circle cx="611.98" cy="1061.8" r="1.85" fill="#c44e52" stroke="#000" stroke-width="1.5"/>
<circle cx="608.48" cy="1107.4" r="1.85" fill="#c44e52" stroke="#000" stroke-width="1.5"/>
<circle cx="611.98" cy="1107.4" r="1.85" fill="#c44e52" stroke="#000" stroke-width="1.5"/>
<circle cx="611.98" cy="1146.7" r="1.85" fill="#c44e52" stroke="#000" stroke-width="1.5"/>
<circle cx="611.98" cy="1158" r="1.85" fill="#c44e52" stroke="#000" stroke-width="1.5"/>
<circle cx="624.48" cy="1193" r="1.85" fill="#8172b3" stroke="#000" stroke-width="1.5"/>
<circle cx="624.48" cy="1201.5" r="1.85" fill="#8172b3" stroke="#000" stroke-width="1.5"/>
<circle cx="621.48" cy="1213.4" r="1.85" fill="#8172b3" stroke="#000" stroke-width="1.5"/>
<circle cx="624.48" cy="1215.5" r="1.85" fill="#8172b3" stroke="#000" stroke-width="1.5"/>
<circle cx="624.48" cy="1220" r="1.85" fill="#8172b3" stroke="#000" stroke-width="1.5"/>
<circle cx="636.98" cy="1136.2" r="1.85" fill="#937860" stroke="#000" stroke-width="1.5"/>
<circle cx="636.98" cy="1153.7" r="1.85" fill="#937860" stroke="#000" stroke-width="1.5"/>
<circle cx="636.98" cy="1166.8" r="1.85" fill="#937860" stroke="#000" stroke-width="1.5"/>
<circle cx="636.98" cy="1180" r="1.85" fill="#937860" stroke="#000" stroke-width="1.5"/>
<circle cx="636.98" cy="1213.5" r="1.85" fill="#937860" stroke="#000" stroke-width="1.5"/>
<circle cx="649.48" cy="1094.7" r="1.85" fill="#da8bc3" stroke="#000" stroke-width="1.5"/>
<circle cx="649.48" cy="1107.4" r="1.85" fill="#da8bc3" stroke="#000" stroke-width="1.5"/>
<circle cx="649.48" cy="1150.1" r="1.85" fill="#da8bc3" stroke="#000" stroke-width="1.5"/>
<circle cx="649.48" cy="1157" r="1.85" fill="#da8bc3" stroke="#000" stroke-width="1.5"/>
<circle cx="649.48" cy="1163.3" r="1.85" fill="#da8bc3" stroke="#000" stroke-width="1.5"/>
<circle cx="683.75" cy="1136.6" r="1.85" fill="#4c72b0" stroke="#000" stroke-width="1.5"/>
<circle cx="683.75" cy="1185.4" r="1.85" fill="#4c72b0" stroke="#000" stroke-width="1.5"/>
<circle cx="683.75" cy="1206" r="1.85" fill="#4c72b0" stroke="#000" stroke-width="1.5"/>
<circle cx="683.75" cy="1233.5" r="1.85" fill="#4c72b0" stroke="#000" stroke-width="1.5"/>
<circle cx="683.75" cy="1321.3" r="1.85" fill="#4c72b0" stroke="#000" stroke-width="1.5"/>
<circle cx="694.75" cy="1281.6" r="1.85" fill="#dd8452" stroke="#000" stroke-width="1.5"/>
<circle cx="696.25" cy="1285" r="1.85" fill="#dd8452" stroke="#000" stroke-width="1.5"/>
<circle cx="693.25" cy="1313.2" r="1.85" fill="#dd8452" stroke="#000" stroke-width="1.5"/>
<circle cx="696.25" cy="1314.6" r="1.85" fill="#dd8452" stroke="#000" stroke-width="1.5"/>
<circle cx="696.25" cy="1339.5" r="1.85" fill="#dd8452" stroke="#000" stroke-width="1.5"/>
<circle cx="708.75" cy="1198.7" r="1.85" fill="#55a868" stroke="#000" stroke-width="1.5"/>
<circle cx="708.75" cy="1213.4" r="1.85" fill="#55a868" stroke="#000" stroke-width="1.5"/>
<circle cx="705.75" cy="1219.5" r="1.85" fill="#55a868" stroke="#000" stroke-width="1.5"/>
<circle cx="708.75" cy="1222.3" r="1.85" fill="#55a868" stroke="#000" stroke-width="1.5"/>
<circle cx="708.75" cy="1251.1" r="1.85" fill="#55a868" stroke="#000" stroke-width="1.5"/>
<circle cx="721.25" cy="1069.6" r="1.85" fill="#c44e52" stroke="#000" stroke-width="1.5"/>
<circle cx="721.25" cy="1101" r="1.85" fill="#c44e52" stroke="#000" stroke-width="1.5"/>
<circle cx="718.75" cy="1116.7" r="1.85" fill="#c44e52" stroke="#000" stroke-width="1.5"/>
<circle cx="721.25" cy="1119.7" r="1.85" fill="#c44e52" stroke="#000" stroke-width="1.5"/>
<circle cx="721.25" cy="1147.6" r="1.85" fill="#c44e52" stroke="#000" stroke-width="1.5"/>
<circle cx="733.75" cy="1149.3" r="1.85" fill="#8172b3" stroke="#000" stroke-width="1.5"/>
<circle cx="731.75" cy="1172.5" r="1.85" fill="#8172b3" stroke="#000" stroke-width="1.5"/>
<circle cx="733.75" cy="1175.6" r="1.85" fill="#8172b3" stroke="#000" stroke-width="1.5"/>
<circle cx="733.75" cy="1196.3" r="1.85" fill="#8172b3" stroke="#000" stroke-width="1.5"/>
<circle cx="733.75" cy="1201" r="1.85" fill="#8172b3" stroke="#000" stroke-width="1.5"/>
<circle cx="746.25" cy="1111" r="1.85" fill="#937860" stroke="#000" stroke-width="1.5"/>
<circle cx="746.25" cy="1156" r="1.85" fill="#937860" stroke="#000" stroke-width="1.5"/>
<circle cx="743.25" cy="1162.2" r="1.85" fill="#937860" stroke="#000" stroke-width="1.5"/>
<circle cx="746.25" cy="1162.4" r="1.85" fill="#937860" stroke="#000" stroke-width="1.5"/>
<circle cx="746.25" cy="1166.3" r="1.85" fill="#937860" stroke="#000" stroke-width="1.5"/>
<circle cx="758.75" cy="1098.1" r="1.85" fill="#da8bc3" stroke="#000" stroke-width="1.5"/>
<circle cx="755.75" cy="1107.6" r="1.85" fill="#da8bc3" stroke="#000" stroke-width="1.5"/>
<circle cx="758.75" cy="1109.9" r="1.85" fill="#da8bc3" stroke="#000" stroke-width="1.5"/>
<circle cx="758.75" cy="1117.7" r="1.85" fill="#da8bc3" stroke="#000" stroke-width="1.5"/>
<circle cx="758.75" cy="1142.2" r="1.85" fill="#da8bc3" stroke="#000" stroke-width="1.5"/>
<circle cx="793.02" cy="1131.7" r="1.85" fill="#4c72b0" stroke="#000" stroke-width="1.5"/>
<circle cx="793.02" cy="1137.3" r="1.85" fill="#4c72b0" stroke="#000" stroke-width="1.5"/>
<circle cx="790.02" cy="1143.1" r="1.85" fill="#4c72b0" stroke="#000" stroke-width="1.5"/>
<circle cx="793.02" cy="1144.8" r="1.85" fill="#4c72b0" stroke="#000" stroke-width="1.5"/>
<circle cx="793.02" cy="1153" r="1.85" fill="#4c72b0" stroke="#000" stroke-width="1.5"/>
<circle cx="805.52" cy="1128.9" r="1.85" fill="#dd8452" stroke="#000" stroke-width="1.5"/>
<circle cx="805.52" cy="1133.6" r="1.85" fill="#dd8452" stroke="#000" stroke-width="1.5"/>
<circle cx="805.52" cy="1141.4" r="1.85" fill="#dd8452" stroke="#000" stroke-width="1.5"/>
<circle cx="805.52" cy="1151.8" r="1.85" fill="#dd8452" stroke="#000" stroke-width="1.5"/>
<circle cx="805.52" cy="1174.4" r="1.85" fill="#dd8452" stroke="#000" stroke-width="1.5"/>
<circle cx="818.02" cy="1175.8" r="1.85" fill="#55a868" stroke="#000" stroke-width="1.5"/>
<circle cx="818.02" cy="1183.4" r="1.85" fill="#55a868" stroke="#000" stroke-width="1.5"/>
<circle cx="815.02" cy="1189.6" r="1.85" fill="#55a868" stroke="#000" stroke-width="1.5"/>
<circle cx="818.02" cy="1190.6" r="1.85" fill="#55a868" stroke="#000" stroke-width="1.5"/>
<circle cx="818.02" cy="1195.7" r="1.85" fill="#55a868" stroke="#000" stroke-width="1.5"/>
<circle cx="830.52" cy="1031.3" r="1.85" fill="#c44e52" stroke="#000" stroke-width="1.5"/>
<circle cx="827.02" cy="1048" r="1.85" fill="#c44e52" stroke="#000" stroke-width="1.5"/>
<circle cx="830.52" cy="1049" r="1.85" fill="#c44e52" stroke="#000" stroke-width="1.5"/>
<circle cx="830.52" cy="1073.8" r="1.85" fill="#c44e52" stroke="#000" stroke-width="1.5"/>
<circle cx="830.52" cy="1120.6" r="1.85" fill="#c44e52" stroke="#000" stroke-width="1.5"/>
<circle cx="839.52" cy="1111.3" r="1.85" fill="#8172b3" stroke="#000" stroke-width="1.5"/>
<circle cx="843.02" cy="1111.8" r="1.85" fill="#8172b3" stroke="#000" stroke-width="1.5"/>
<circle cx="846.52" cy="1111.3" r="1.85" fill="#8172b3" stroke="#000" stroke-width="1.5"/>
<circle cx="843.02" cy="1132.9" r="1.85" fill="#8172b3" stroke="#000" stroke-width="1.5"/>
<circle cx="843.02" cy="1138.3" r="1.85" fill="#8172b3" stroke="#000" stroke-width="1.5"/>
<circle cx="852.52" cy="1079.6" r="1.85" fill="#937860" stroke="#000" stroke-width="1.5"/>
<circle cx="855.52" cy="1080.6" r="1.85" fill="#937860" stroke="#000" stroke-width="1.5"/>
<circle cx="855.52" cy="1093.6" r="1.85" fill="#937860" stroke="#000" stroke-width="1.5"/>
<circle cx="855.52" cy="1101.9" r="1.85" fill="#937860" stroke="#000" stroke-width="1.5"/>
<circle cx="855.52" cy="1109.5" r="1.85" fill="#937860" stroke="#000" stroke-width="1.5"/>
<circle cx="868.02" cy="1036" r="1.85" fill="#da8bc3" stroke="#000" stroke-width="1.5"/>
<circle cx="865.02" cy="1060" r="1.85" fill="#da8bc3" stroke="#000" stroke-width="1.5"/>
<circle cx="868.02" cy="1061.2" r="1.85" fill="#da8bc3" stroke="#000" stroke-width="1.5"/>
<circle cx="868.02" cy="1069.6" r="1.85" fill="#da8bc3" stroke="#000" stroke-width="1.5"/>
<circle cx="868.02" cy="1080.4" r="1.85" fill="#da8bc3" stroke="#000" stroke-width="1.5"/>
</g>
<g id="pc">
<line x1="1054.5" y1="997" x2="1054.5" y2="1742.5" stroke="#000" stroke-width="1.0"/>
<line x1="1054.5" y1="1742.5" x2="1821" y2="1742.5" stroke="#000" stroke-width="1.0"/>
<line x1="1044.3" y1="1690" x2="1054.5" y2="1690" stroke="#1a1a1a" stroke-width="1.0"/>
<text x="1033.6" y="1698.5" text-anchor="end" font-size="27.3">0.5</text>
<line x1="1044.3" y1="1531.62" x2="1054.5" y2="1531.62" stroke="#1a1a1a" stroke-width="1.0"/>
<text x="1033.6" y="1540.12" text-anchor="end" font-size="27.3">0.6</text>
<line x1="1044.3" y1="1373.25" x2="1054.5" y2="1373.25" stroke="#1a1a1a" stroke-width="1.0"/>
<text x="1033.6" y="1381.75" text-anchor="end" font-size="27.3">0.7</text>
<line x1="1044.3" y1="1214.88" x2="1054.5" y2="1214.88" stroke="#1a1a1a" stroke-width="1.0"/>
<text x="1033.6" y="1223.38" text-anchor="end" font-size="27.3">0.8</text>
<line x1="1044.3" y1="1056.5" x2="1054.5" y2="1056.5" stroke="#1a1a1a" stroke-width="1.0"/>
<text x="1033.6" y="1065" text-anchor="end" font-size="27.3">0.9</text>
<line x1="1106.1" y1="1742.5" x2="1106.1" y2="1752.7" stroke="#1a1a1a" stroke-width="1.0"/>
<text x="1106.1" y="1783.3" text-anchor="middle" font-size="27.3">25</text>
<line x1="1214.9" y1="1742.5" x2="1214.9" y2="1752.7" stroke="#1a1a1a" stroke-width="1.0"/>
<text x="1214.9" y="1783.3" text-anchor="middle" font-size="27.3">50</text>
<line x1="1323.8" y1="1742.5" x2="1323.8" y2="1752.7" stroke="#1a1a1a" stroke-width="1.0"/>
<text x="1323.8" y="1783.3" text-anchor="middle" font-size="27.3">100</text>
<line x1="1432.6" y1="1742.5" x2="1432.6" y2="1752.7" stroke="#1a1a1a" stroke-width="1.0"/>
<text x="1432.6" y="1783.3" text-anchor="middle" font-size="27.3">200</text>
<line x1="1541.5" y1="1742.5" x2="1541.5" y2="1752.7" stroke="#1a1a1a" stroke-width="1.0"/>
<text x="1541.5" y="1783.3" text-anchor="middle" font-size="27.3">300</text>
<line x1="1650.3" y1="1742.5" x2="1650.3" y2="1752.7" stroke="#1a1a1a" stroke-width="1.0"/>
<text x="1650.3" y="1783.3" text-anchor="middle" font-size="27.3">400</text>
<line x1="1761.7" y1="1742.5" x2="1761.7" y2="1752.7" stroke="#1a1a1a" stroke-width="1.0"/>
<text x="1761.7" y="1783.3" text-anchor="middle" font-size="27.3">All</text>
<text x="1436.5" y="1828.6" text-anchor="middle" font-size="27.2">Number of patients per cohort</text>
<text transform="translate(970.9,1370.2) rotate(-90)" text-anchor="middle" font-size="27.3">AUROC</text>
<text x="1454.4" y="982.1" text-anchor="middle" font-size="27.3">MSI in YCR BCIP</text>
<rect x="1574.1" y="1475.7" width="47.5" height="16.6" fill="#5875a4" stroke="#555" stroke-width="1.2"/>
<text x="1634.8" y="1493" font-size="27.2">Epi700</text>
<rect x="1574.1" y="1509.48" width="47.5" height="16.6" fill="#cc8963" stroke="#555" stroke-width="1.2"/>
<text x="1634.8" y="1526.78" font-size="27.2">DACHS</text>
<rect x="1574.1" y="1543.26" width="47.5" height="16.6" fill="#5f9e6e" stroke="#555" stroke-width="1.2"/>
<text x="1634.8" y="1560.56" font-size="27.2">TCGA</text>
<rect x="1574.1" y="1577.04" width="47.5" height="16.6" fill="#b55d60" stroke="#555" stroke-width="1.2"/>
<text x="1634.8" y="1594.34" font-size="27.2">Merged</text>
<rect x="1574.1" y="1610.82" width="47.5" height="16.6" fill="#857aab" stroke="#555" stroke-width="1.2"/>
<text x="1634.8" y="1628.12" font-size="27.2">b-chkpt1</text>
<rect x="1574.1" y="1644.6" width="47.5" height="16.6" fill="#8d7866" stroke="#555" stroke-width="1.2"/>
<text x="1634.8" y="1661.9" font-size="27.2">b-chkpt2</text>
<rect x="1574.1" y="1678.38" width="47.5" height="16.6" fill="#d095bf" stroke="#555" stroke-width="1.2"/>
<text x="1634.8" y="1695.68" font-size="27.2">w-chkpt</text>
<rect x="1065.6" y="1405.1" width="12.2" height="8.9" fill="#5875a4" class="b"/>
<line x1="1065.6" y1="1409.5" x2="1077.8" y2="1409.5" class="m"/>
<line x1="1084.2" y1="1427.4" x2="1084.2" y2="1459.5" class="w"/>
<line x1="1081.15" y1="1427.4" x2="1087.25" y2="1427.4" class="w"/>
<rect x="1078.1" y="1459.5" width="12.2" height="22.1" fill="#cc8963" class="b"/>
<line x1="1078.1" y1="1459.5" x2="1090.3" y2="1459.5" class="m"/>
<line x1="1096.7" y1="1372.2" x2="1096.7" y2="1413.7" class="w"/>
<line x1="1093.65" y1="1372.2" x2="1099.75" y2="1372.2" class="w"/>
<line x1="1096.7" y1="1539.9" x2="1096.7" y2="1708.4" class="w"/>
<line x1="1093.65" y1="1708.4" x2="1099.75" y2="1708.4" class="w"/>
<rect x="1090.6" y="1413.7" width="12.2" height="126.2" fill="#5f9e6e" class="b"/>
<line x1="1090.6" y1="1492.4" x2="1102.8" y2="1492.4" class="m"/>
<line x1="1109.2" y1="1334.3" x2="1109.2" y2="1338.7" class="w"/>
<line x1="1106.15" y1="1334.3" x2="1112.25" y2="1334.3" class="w"/>
<line x1="1109.2" y1="1408.6" x2="1109.2" y2="1412.8" class="w"/>
<line x1="1106.15" y1="1412.8" x2="1112.25" y2="1412.8" class="w"/>
<rect x="1103.1" y="1338.7" width="12.2" height="69.9" fill="#b55d60" class="b"/>
<line x1="1103.1" y1="1388.9" x2="1115.3" y2="1388.9" class="m"/>
<rect x="1115.6" y="1388" width="12.2" height="16.1" fill="#857aab" class="b"/>
<line x1="1115.6" y1="1390.4" x2="1127.8" y2="1390.4" class="m"/>
<line x1="1134.2" y1="1372.7" x2="1134.2" y2="1403.8" class="w"/>
<line x1="1131.15" y1="1372.7" x2="1137.25" y2="1372.7" class="w"/>
<rect x="1128.1" y="1403.8" width="12.2" height="24.2" fill="#8d7866" class="b"/>
<line x1="1128.1" y1="1403.8" x2="1140.3" y2="1403.8" class="m"/>
<line x1="1146.7" y1="1337.7" x2="1146.7" y2="1367.3" class="w"/>
<line x1="1143.65" y1="1337.7" x2="1149.75" y2="1337.7" class="w"/>
<rect x="1140.6" y="1367.3" width="12.2" height="52.5" fill="#d095bf" class="b"/>
<line x1="1140.6" y1="1372.2" x2="1152.8" y2="1372.2" class="m"/>
<line x1="1180.95" y1="1301.2" x2="1180.95" y2="1353.8" class="w"/>
<line x1="1177.9" y1="1301.2" x2="1184" y2="1301.2" class="w"/>
<line x1="1180.95" y1="1392.7" x2="1180.95" y2="1405.7" class="w"/>
<line x1="1177.9" y1="1405.7" x2="1184" y2="1405.7" class="w"/>
<rect x="1174.85" y="1353.8" width="12.2" height="38.9" fill="#5875a4" class="b"/>
<line x1="1174.85" y1="1366.6" x2="1187.05" y2="1366.6" class="m"/>
<line x1="1193.45" y1="1301.5" x2="1193.45" y2="1383.9" class="w"/>
<line x1="1190.4" y1="1301.5" x2="1196.5" y2="1301.5" class="w"/>
<line x1="1193.45" y1="1441.8" x2="1193.45" y2="1454.7" class="w"/>
<line x1="1190.4" y1="1454.7" x2="1196.5" y2="1454.7" class="w"/>
<rect x="1187.35" y="1383.9" width="12.2" height="57.9" fill="#cc8963" class="b"/>
<line x1="1187.35" y1="1431.3" x2="1199.55" y2="1431.3" class="m"/>
<line x1="1205.95" y1="1385.9" x2="1205.95" y2="1390.8" class="w"/>
<line x1="1202.9" y1="1390.8" x2="1209" y2="1390.8" class="w"/>
<rect x="1199.85" y="1362.7" width="12.2" height="23.2" fill="#5f9e6e" class="b"/>
<line x1="1199.85" y1="1385.4" x2="1212.05" y2="1385.4" class="m"/>
<line x1="1218.45" y1="1239.5" x2="1218.45" y2="1281.7" class="w"/>
<line x1="1215.4" y1="1239.5" x2="1221.5" y2="1239.5" class="w"/>
<line x1="1218.45" y1="1350.6" x2="1218.45" y2="1372.1" class="w"/>
<line x1="1215.4" y1="1372.1" x2="1221.5" y2="1372.1" class="w"/>
<rect x="1212.35" y="1281.7" width="12.2" height="68.9" fill="#b55d60" class="b"/>
<line x1="1212.35" y1="1299.6" x2="1224.55" y2="1299.6" class="m"/>
<line x1="1230.95" y1="1377.4" x2="1230.95" y2="1391.9" class="w"/>
<line x1="1227.9" y1="1391.9" x2="1234" y2="1391.9" class="w"/>
<rect x="1224.85" y="1351.6" width="12.2" height="25.8" fill="#857aab" class="b"/>
<line x1="1224.85" y1="1364.6" x2="1237.05" y2="1364.6" class="m"/>
<line x1="1243.45" y1="1311.8" x2="1243.45" y2="1342.7" class="w"/>
<line x1="1240.4" y1="1311.8" x2="1246.5" y2="1311.8" class="w"/>
<line x1="1243.45" y1="1427" x2="1243.45" y2="1429" class="w"/>
<line x1="1240.4" y1="1429" x2="1246.5" y2="1429" class="w"/>
<rect x="1237.35" y="1342.7" width="12.2" height="84.3" fill="#8d7866" class="b"/>
<line x1="1237.35" y1="1377" x2="1249.55" y2="1377" class="m"/>
<line x1="1255.95" y1="1330.3" x2="1255.95" y2="1336.8" class="w"/>
<line x1="1252.9" y1="1330.3" x2="1259" y2="1330.3" class="w"/>
<line x1="1255.95" y1="1395.6" x2="1255.95" y2="1400" class="w"/>
<line x1="1252.9" y1="1400" x2="1259" y2="1400" class="w"/>
<rect x="1249.85" y="1336.8" width="12.2" height="58.8" fill="#d095bf" class="b"/>
<line x1="1249.85" y1="1386.8" x2="1262.05" y2="1386.8" class="m"/>
<line x1="1290.2" y1="1310.5" x2="1290.2" y2="1330.2" class="w"/>
<line x1="1287.15" y1="1330.2" x2="1293.25" y2="1330.2" class="w"/>
<rect x="1284.1" y="1276.6" width="12.2" height="33.9" fill="#5875a4" class="b"/>
<line x1="1284.1" y1="1291.2" x2="1296.3" y2="1291.2" class="m"/>
<line x1="1302.7" y1="1221.6" x2="1302.7" y2="1273.7" class="w"/>
<line x1="1299.65" y1="1221.6" x2="1305.75" y2="1221.6" class="w"/>
<line x1="1302.7" y1="1367.5" x2="1302.7" y2="1423.9" class="w"/>
<line x1="1299.65" y1="1423.9" x2="1305.75" y2="1423.9" class="w"/>
<rect x="1296.6" y="1273.7" width="12.2" height="93.8" fill="#cc8963" class="b"/>
<line x1="1296.6" y1="1366" x2="1308.8" y2="1366" class="m"/>
<line x1="1315.2" y1="1405" x2="1315.2" y2="1420" class="w"/>
<line x1="1312.15" y1="1420" x2="1318.25" y2="1420" class="w"/>
<rect x="1309.1" y="1334.1" width="12.2" height="70.9" fill="#5f9e6e" class="b"/>
<line x1="1309.1" y1="1394.9" x2="1321.3" y2="1394.9" class="m"/>
<line x1="1327.7" y1="1306.1" x2="1327.7" y2="1318.6" class="w"/>
<line x1="1324.65" y1="1318.6" x2="1330.75" y2="1318.6" class="w"/>
<rect x="1321.6" y="1257.4" width="12.2" height="48.7" fill="#b55d60" class="b"/>
<line x1="1321.6" y1="1258" x2="1333.8" y2="1258" class="m"/>
<line x1="1340.2" y1="1250" x2="1340.2" y2="1300.7" class="w"/>
<line x1="1337.15" y1="1250" x2="1343.25" y2="1250" class="w"/>
<line x1="1340.2" y1="1336.5" x2="1340.2" y2="1380.7" class="w"/>
<line x1="1337.15" y1="1380.7" x2="1343.25" y2="1380.7" class="w"/>
<rect x="1334.1" y="1300.7" width="12.2" height="35.8" fill="#857aab" class="b"/>
<line x1="1334.1" y1="1331.1" x2="1346.3" y2="1331.1" class="m"/>
<line x1="1352.7" y1="1346.4" x2="1352.7" y2="1368.9" class="w"/>
<line x1="1349.65" y1="1368.9" x2="1355.75" y2="1368.9" class="w"/>
<rect x="1346.6" y="1320.4" width="12.2" height="26" fill="#8d7866" class="b"/>
<line x1="1346.6" y1="1320.8" x2="1358.8" y2="1320.8" class="m"/>
<line x1="1365.2" y1="1300.2" x2="1365.2" y2="1313.5" class="w"/>
<line x1="1362.15" y1="1313.5" x2="1368.25" y2="1313.5" class="w"/>
<rect x="1359.1" y="1272.7" width="12.2" height="27.5" fill="#d095bf" class="b"/>
<line x1="1359.1" y1="1273.2" x2="1371.3" y2="1273.2" class="m"/>
<line x1="1399.45" y1="1252.8" x2="1399.45" y2="1270.9" class="w"/>
<line x1="1396.4" y1="1252.8" x2="1402.5" y2="1252.8" class="w"/>
<line x1="1399.45" y1="1312.3" x2="1399.45" y2="1332.7" class="w"/>
<line x1="1396.4" y1="1332.7" x2="1402.5" y2="1332.7" class="w"/>
<rect x="1393.35" y="1270.9" width="12.2" height="41.4" fill="#5875a4" class="b"/>
<line x1="1393.35" y1="1282" x2="1405.55" y2="1282" class="m"/>
<line x1="1411.95" y1="1248.1" x2="1411.95" y2="1264.3" class="w"/>
<line x1="1408.9" y1="1248.1" x2="1415" y2="1248.1" class="w"/>
<line x1="1411.95" y1="1337" x2="1411.95" y2="1349.7" class="w"/>
<line x1="1408.9" y1="1349.7" x2="1415" y2="1349.7" class="w"/>
<rect x="1405.85" y="1264.3" width="12.2" height="72.7" fill="#cc8963" class="b"/>
<line x1="1405.85" y1="1294.7" x2="1418.05" y2="1294.7" class="m"/>
<line x1="1424.45" y1="1202.5" x2="1424.45" y2="1221.6" class="w"/>
<line x1="1421.4" y1="1202.5" x2="1427.5" y2="1202.5" class="w"/>
<line x1="1424.45" y1="1273.5" x2="1424.45" y2="1296" class="w"/>
<line x1="1421.4" y1="1296" x2="1427.5" y2="1296" class="w"/>
<rect x="1418.35" y="1221.6" width="12.2" height="51.9" fill="#5f9e6e" class="b"/>
<line x1="1418.35" y1="1222" x2="1430.55" y2="1222" class="m"/>
<line x1="1436.95" y1="1135.2" x2="1436.95" y2="1143" class="w"/>
<line x1="1433.9" y1="1135.2" x2="1440" y2="1135.2" class="w"/>
<line x1="1436.95" y1="1173.6" x2="1436.95" y2="1182.3" class="w"/>
<line x1="1433.9" y1="1182.3" x2="1440" y2="1182.3" class="w"/>
<rect x="1430.85" y="1143" width="12.2" height="30.6" fill="#b55d60" class="b"/>
<line x1="1430.85" y1="1150.5" x2="1443.05" y2="1150.5" class="m"/>
<line x1="1449.45" y1="1231.7" x2="1449.45" y2="1249.8" class="w"/>
<line x1="1446.4" y1="1231.7" x2="1452.5" y2="1231.7" class="w"/>
<line x1="1449.45" y1="1280.5" x2="1449.45" y2="1296.9" class="w"/>
<line x1="1446.4" y1="1296.9" x2="1452.5" y2="1296.9" class="w"/>
<rect x="1443.35" y="1249.8" width="12.2" height="30.7" fill="#857aab" class="b"/>
<line x1="1443.35" y1="1273" x2="1455.55" y2="1273" class="m"/>
<line x1="1461.95" y1="1183.7" x2="1461.95" y2="1222.9" class="w"/>
<line x1="1458.9" y1="1183.7" x2="1465" y2="1183.7" class="w"/>
<line x1="1461.95" y1="1256" x2="1461.95" y2="1262.9" class="w"/>
<line x1="1458.9" y1="1262.9" x2="1465" y2="1262.9" class="w"/>
<rect x="1455.85" y="1222.9" width="12.2" height="33.1" fill="#8d7866" class="b"/>
<line x1="1455.85" y1="1241" x2="1468.05" y2="1241" class="m"/>
<line x1="1474.45" y1="1235.4" x2="1474.45" y2="1250.6" class="w"/>
<line x1="1471.4" y1="1250.6" x2="1477.5" y2="1250.6" class="w"/>
<rect x="1468.35" y="1222.1" width="12.2" height="13.3" fill="#d095bf" class="b"/>
<line x1="1468.35" y1="1232" x2="1480.55" y2="1232" class="m"/>
<rect x="1502.6" y="1240.7" width="12.2" height="8.3" fill="#5875a4" class="b"/>
<line x1="1502.6" y1="1244.9" x2="1514.8" y2="1244.9" class="m"/>
<line x1="1521.2" y1="1216.1" x2="1521.2" y2="1233" class="w"/>
<line x1="1518.15" y1="1216.1" x2="1524.25" y2="1216.1" class="w"/>
<rect x="1515.1" y="1233" width="12.2" height="16.9" fill="#cc8963" class="b"/>
<line x1="1515.1" y1="1241.3" x2="1527.3" y2="1241.3" class="m"/>
<line x1="1533.7" y1="1183.7" x2="1533.7" y2="1188.9" class="w"/>
<line x1="1530.65" y1="1183.7" x2="1536.75" y2="1183.7" class="w"/>
<line x1="1533.7" y1="1232.1" x2="1533.7" y2="1241" class="w"/>
<line x1="1530.65" y1="1241" x2="1536.75" y2="1241" class="w"/>
<rect x="1527.6" y="1188.9" width="12.2" height="43.2" fill="#5f9e6e" class="b"/>
<line x1="1527.6" y1="1222.3" x2="1539.8" y2="1222.3" class="m"/>
<line x1="1546.2" y1="1093.1" x2="1546.2" y2="1105.8" class="w"/>
<line x1="1543.15" y1="1093.1" x2="1549.25" y2="1093.1" class="w"/>
<line x1="1546.2" y1="1168.8" x2="1546.2" y2="1176.9" class="w"/>
<line x1="1543.15" y1="1176.9" x2="1549.25" y2="1176.9" class="w"/>
<rect x="1540.1" y="1105.8" width="12.2" height="63" fill="#b55d60" class="b"/>
<line x1="1540.1" y1="1150.5" x2="1552.3" y2="1150.5" class="m"/>
<line x1="1558.7" y1="1178.6" x2="1558.7" y2="1206.1" class="w"/>
<line x1="1555.65" y1="1178.6" x2="1561.75" y2="1178.6" class="w"/>
<line x1="1558.7" y1="1248.7" x2="1558.7" y2="1288.6" class="w"/>
<line x1="1555.65" y1="1288.6" x2="1561.75" y2="1288.6" class="w"/>
<rect x="1552.6" y="1206.1" width="12.2" height="42.6" fill="#857aab" class="b"/>
<line x1="1552.6" y1="1240.4" x2="1564.8" y2="1240.4" class="m"/>
<line x1="1571.2" y1="1174.2" x2="1571.2" y2="1190.9" class="w"/>
<line x1="1568.15" y1="1174.2" x2="1574.25" y2="1174.2" class="w"/>
<rect x="1565.1" y="1190.9" width="12.2" height="11.8" fill="#8d7866" class="b"/>
<line x1="1565.1" y1="1197.3" x2="1577.3" y2="1197.3" class="m"/>
<line x1="1583.7" y1="1161.3" x2="1583.7" y2="1165.9" class="w"/>
<line x1="1580.65" y1="1161.3" x2="1586.75" y2="1161.3" class="w"/>
<line x1="1583.7" y1="1187.5" x2="1583.7" y2="1205.6" class="w"/>
<line x1="1580.65" y1="1205.6" x2="1586.75" y2="1205.6" class="w"/>
<rect x="1577.6" y="1165.9" width="12.2" height="21.6" fill="#d095bf" class="b"/>
<line x1="1577.6" y1="1168.8" x2="1589.8" y2="1168.8" class="m"/>
<line x1="1617.95" y1="1205.6" x2="1617.95" y2="1210.5" class="w"/>
<line x1="1614.9" y1="1205.6" x2="1621" y2="1205.6" class="w"/>
<line x1="1617.95" y1="1257.8" x2="1617.95" y2="1295.5" class="w"/>
<line x1="1614.9" y1="1295.5" x2="1621" y2="1295.5" class="w"/>
<rect x="1611.85" y="1210.5" width="12.2" height="47.3" fill="#5875a4" class="b"/>
<line x1="1611.85" y1="1245.1" x2="1624.05" y2="1245.1" class="m"/>
<line x1="1630.45" y1="1199" x2="1630.45" y2="1222.9" class="w"/>
<line x1="1627.4" y1="1199" x2="1633.5" y2="1199" class="w"/>
<line x1="1630.45" y1="1258.7" x2="1630.45" y2="1304" class="w"/>
<line x1="1627.4" y1="1304" x2="1633.5" y2="1304" class="w"/>
<rect x="1624.35" y="1222.9" width="12.2" height="35.8" fill="#cc8963" class="b"/>
<line x1="1624.35" y1="1235.5" x2="1636.55" y2="1235.5" class="m"/>
<rect x="1636.85" y="1204.4" width="12.2" height="6.6" fill="#5f9e6e" class="b"/>
<line x1="1636.85" y1="1207.6" x2="1649.05" y2="1207.6" class="m"/>
<line x1="1655.45" y1="1090.3" x2="1655.45" y2="1103.1" class="w"/>
<line x1="1652.4" y1="1090.3" x2="1658.5" y2="1090.3" class="w"/>
<line x1="1655.45" y1="1139.4" x2="1655.45" y2="1149.2" class="w"/>
<line x1="1652.4" y1="1149.2" x2="1658.5" y2="1149.2" class="w"/>
<rect x="1649.35" y="1103.1" width="12.2" height="36.3" fill="#b55d60" class="b"/>
<line x1="1649.35" y1="1111.9" x2="1661.55" y2="1111.9" class="m"/>
<line x1="1667.95" y1="1188.9" x2="1667.95" y2="1192.9" class="w"/>
<line x1="1664.9" y1="1188.9" x2="1671" y2="1188.9" class="w"/>
<line x1="1667.95" y1="1222.3" x2="1667.95" y2="1232.6" class="w"/>
<line x1="1664.9" y1="1232.6" x2="1671" y2="1232.6" class="w"/>
<rect x="1661.85" y="1192.9" width="12.2" height="29.4" fill="#857aab" class="b"/>
<line x1="1661.85" y1="1207.5" x2="1674.05" y2="1207.5" class="m"/>
<line x1="1680.45" y1="1152.1" x2="1680.45" y2="1180.1" class="w"/>
<line x1="1677.4" y1="1152.1" x2="1683.5" y2="1152.1" class="w"/>
<line x1="1680.45" y1="1209.4" x2="1680.45" y2="1210.8" class="w"/>
<line x1="1677.4" y1="1210.8" x2="1683.5" y2="1210.8" class="w"/>
<rect x="1674.35" y="1180.1" width="12.2" height="29.3" fill="#8d7866" class="b"/>
<line x1="1674.35" y1="1185.5" x2="1686.55" y2="1185.5" class="m"/>
<line x1="1692.95" y1="1143.3" x2="1692.95" y2="1155.1" class="w"/>
<line x1="1689.9" y1="1143.3" x2="1696" y2="1143.3" class="w"/>
<line x1="1692.95" y1="1168.3" x2="1692.95" y2="1171.8" class="w"/>
<line x1="1689.9" y1="1171.8" x2="1696" y2="1171.8" class="w"/>
<rect x="1686.85" y="1155.1" width="12.2" height="13.2" fill="#d095bf" class="b"/>
<line x1="1686.85" y1="1167.3" x2="1699.05" y2="1167.3" class="m"/>
<line x1="1727.2" y1="1160.3" x2="1727.2" y2="1162.6" class="w"/>
<line x1="1724.15" y1="1160.3" x2="1730.25" y2="1160.3" class="w"/>
<line x1="1727.2" y1="1206.1" x2="1727.2" y2="1229.3" class="w"/>
<line x1="1724.15" y1="1229.3" x2="1730.25" y2="1229.3" class="w"/>
<rect x="1721.1" y="1162.6" width="12.2" height="43.5" fill="#5875a4" class="b"/>
<line x1="1721.1" y1="1205.1" x2="1733.3" y2="1205.1" class="m"/>
<line x1="1739.7" y1="1108.8" x2="1739.7" y2="1120.1" class="w"/>
<line x1="1736.65" y1="1120.1" x2="1742.75" y2="1120.1" class="w"/>
<rect x="1733.6" y="1090.7" width="12.2" height="18.1" fill="#cc8963" class="b"/>
<line x1="1733.6" y1="1092.1" x2="1745.8" y2="1092.1" class="m"/>
<line x1="1752.2" y1="1153.6" x2="1752.2" y2="1162" class="w"/>
<line x1="1749.15" y1="1153.6" x2="1755.25" y2="1153.6" class="w"/>
<line x1="1752.2" y1="1194.8" x2="1752.2" y2="1215.1" class="w"/>
<line x1="1749.15" y1="1215.1" x2="1755.25" y2="1215.1" class="w"/>
<rect x="1746.1" y="1162" width="12.2" height="32.8" fill="#5f9e6e" class="b"/>
<line x1="1746.1" y1="1184.5" x2="1758.3" y2="1184.5" class="m"/>
<line x1="1764.7" y1="1031.3" x2="1764.7" y2="1054.8" class="w"/>
<line x1="1761.65" y1="1031.3" x2="1767.75" y2="1031.3" class="w"/>
<line x1="1764.7" y1="1087.7" x2="1764.7" y2="1093.1" class="w"/>
<line x1="1761.65" y1="1093.1" x2="1767.75" y2="1093.1" class="w"/>
<rect x="1758.6" y="1054.8" width="12.2" height="32.9" fill="#b55d60" class="b"/>
<line x1="1758.6" y1="1057.3" x2="1770.8" y2="1057.3" class="m"/>
<line x1="1777.2" y1="1138.7" x2="1777.2" y2="1143.2" class="w"/>
<line x1="1774.15" y1="1138.7" x2="1780.25" y2="1138.7" class="w"/>
<line x1="1777.2" y1="1177.8" x2="1777.2" y2="1180" class="w"/>
<line x1="1774.15" y1="1180" x2="1780.25" y2="1180" class="w"/>
<rect x="1771.1" y="1143.2" width="12.2" height="34.6" fill="#857aab" class="b"/>
<line x1="1771.1" y1="1154.7" x2="1783.3" y2="1154.7" class="m"/>
<line x1="1789.7" y1="1102.7" x2="1789.7" y2="1121.6" class="w"/>
<line x1="1786.65" y1="1102.7" x2="1792.75" y2="1102.7" class="w"/>
<line x1="1789.7" y1="1144.1" x2="1789.7" y2="1153.5" class="w"/>
<line x1="1786.65" y1="1153.5" x2="1792.75" y2="1153.5" class="w"/>
<rect x="1783.6" y="1121.6" width="12.2" height="22.5" fill="#8d7866" class="b"/>
<line x1="1783.6" y1="1141.2" x2="1795.8" y2="1141.2" class="m"/>
<rect x="1796.1" y="1072.5" width="12.2" height="6.4" fill="#d095bf" class="b"/>
<line x1="1796.1" y1="1075.4" x2="1808.3" y2="1075.4" class="m"/>
<circle cx="1071.7" cy="1306.5" r="1.85" fill="#4c72b0" stroke="#000" stroke-width="1.5"/>
<circle cx="1071.7" cy="1404.5" r="1.85" fill="#4c72b0" stroke="#000" stroke-width="1.5"/>
<circle cx="1069.7" cy="1407.5" r="1.85" fill="#4c72b0" stroke="#000" stroke-width="1.5"/>
<circle cx="1071.7" cy="1409.5" r="1.85" fill="#4c72b0" stroke="#000" stroke-width="1.5"/>
<circle cx="1073.7" cy="1407.5" r="1.85" fill="#4c72b0" stroke="#000" stroke-width="1.5"/>
<circle cx="1071.7" cy="1414.8" r="1.85" fill="#4c72b0" stroke="#000" stroke-width="1.5"/>
<circle cx="1071.7" cy="1450.7" r="1.85" fill="#4c72b0" stroke="#000" stroke-width="1.5"/>
<circle cx="1084.2" cy="1427.4" r="1.85" fill="#dd8452" stroke="#000" stroke-width="1.5"/>
<circle cx="1081.2" cy="1459.5" r="1.85" fill="#dd8452" stroke="#000" stroke-width="1.5"/>
<circle cx="1084.2" cy="1459.5" r="1.85" fill="#dd8452" stroke="#000" stroke-width="1.5"/>
<circle cx="1084.2" cy="1481.6" r="1.85" fill="#dd8452" stroke="#000" stroke-width="1.5"/>
<circle cx="1084.2" cy="1549.7" r="1.85" fill="#dd8452" stroke="#000" stroke-width="1.5"/>
<circle cx="1096.7" cy="1372.2" r="1.85" fill="#55a868" stroke="#000" stroke-width="1.5"/>
<circle cx="1096.7" cy="1413.7" r="1.85" fill="#55a868" stroke="#000" stroke-width="1.5"/>
<circle cx="1096.7" cy="1492.4" r="1.85" fill="#55a868" stroke="#000" stroke-width="1.5"/>
<circle cx="1096.7" cy="1539.9" r="1.85" fill="#55a868" stroke="#000" stroke-width="1.5"/>
<circle cx="1096.7" cy="1708.4" r="1.85" fill="#55a868" stroke="#000" stroke-width="1.5"/>
<circle cx="1109.2" cy="1334.3" r="1.85" fill="#c44e52" stroke="#000" stroke-width="1.5"/>
<circle cx="1109.2" cy="1338.7" r="1.85" fill="#c44e52" stroke="#000" stroke-width="1.5"/>
<circle cx="1109.2" cy="1388.9" r="1.85" fill="#c44e52" stroke="#000" stroke-width="1.5"/>
<circle cx="1109.2" cy="1408.6" r="1.85" fill="#c44e52" stroke="#000" stroke-width="1.5"/>
<circle cx="1109.2" cy="1412.8" r="1.85" fill="#c44e52" stroke="#000" stroke-width="1.5"/>
<circle cx="1121.7" cy="1297.7" r="1.85" fill="#8172b3" stroke="#000" stroke-width="1.5"/>
<circle cx="1121.7" cy="1388" r="1.85" fill="#8172b3" stroke="#000" stroke-width="1.5"/>
<circle cx="1121.7" cy="1391.9" r="1.85" fill="#8172b3" stroke="#000" stroke-width="1.5"/>
<circle cx="1121.7" cy="1404.1" r="1.85" fill="#8172b3" stroke="#000" stroke-width="1.5"/>
<circle cx="1121.7" cy="1428.1" r="1.85" fill="#8172b3" stroke="#000" stroke-width="1.5"/>
<circle cx="1134.2" cy="1372.7" r="1.85" fill="#937860" stroke="#000" stroke-width="1.5"/>
<circle cx="1131.2" cy="1403.8" r="1.85" fill="#937860" stroke="#000" stroke-width="1.5"/>
<circle cx="1134.2" cy="1403.8" r="1.85" fill="#937860" stroke="#000" stroke-width="1.5"/>
<circle cx="1134.2" cy="1428" r="1.85" fill="#937860" stroke="#000" stroke-width="1.5"/>
<circle cx="1134.2" cy="1507.6" r="1.85" fill="#937860" stroke="#000" stroke-width="1.5"/>
<circle cx="1146.7" cy="1337.7" r="1.85" fill="#da8bc3" stroke="#000" stroke-width="1.5"/>
<circle cx="1146.7" cy="1367.3" r="1.85" fill="#da8bc3" stroke="#000" stroke-width="1.5"/>
<circle cx="1146.7" cy="1372.2" r="1.85" fill="#da8bc3" stroke="#000" stroke-width="1.5"/>
<circle cx="1143.7" cy="1419.8" r="1.85" fill="#da8bc3" stroke="#000" stroke-width="1.5"/>
<circle cx="1146.7" cy="1421" r="1.85" fill="#da8bc3" stroke="#000" stroke-width="1.5"/>
<circle cx="1180.95" cy="1301.2" r="1.85" fill="#4c72b0" stroke="#000" stroke-width="1.5"/>
<circle cx="1180.95" cy="1353.8" r="1.85" fill="#4c72b0" stroke="#000" stroke-width="1.5"/>
<circle cx="1180.95" cy="1366.6" r="1.85" fill="#4c72b0" stroke="#000" stroke-width="1.5"/>
<circle cx="1180.95" cy="1392.7" r="1.85" fill="#4c72b0" stroke="#000" stroke-width="1.5"/>
<circle cx="1180.95" cy="1405.7" r="1.85" fill="#4c72b0" stroke="#000" stroke-width="1.5"/>
<circle cx="1193.45" cy="1301.5" r="1.85" fill="#dd8452" stroke="#000" stroke-width="1.5"/>
<circle cx="1193.45" cy="1383.9" r="1.85" fill="#dd8452" stroke="#000" stroke-width="1.5"/>
<circle cx="1193.45" cy="1431.3" r="1.85" fill="#dd8452" stroke="#000" stroke-width="1.5"/>
<circle cx="1193.45" cy="1441.8" r="1.85" fill="#dd8452" stroke="#000" stroke-width="1.5"/>
<circle cx="1193.45" cy="1454.7" r="1.85" fill="#dd8452" stroke="#000" stroke-width="1.5"/>
<circle cx="1205.95" cy="1276.5" r="1.85" fill="#55a868" stroke="#000" stroke-width="1.5"/>
<circle cx="1205.95" cy="1362.7" r="1.85" fill="#55a868" stroke="#000" stroke-width="1.5"/>
<circle cx="1202.95" cy="1384.6" r="1.85" fill="#55a868" stroke="#000" stroke-width="1.5"/>
<circle cx="1205.95" cy="1385.9" r="1.85" fill="#55a868" stroke="#000" stroke-width="1.5"/>
<circle cx="1205.95" cy="1390.8" r="1.85" fill="#55a868" stroke="#000" stroke-width="1.5"/>
<circle cx="1218.45" cy="1239.5" r="1.85" fill="#c44e52" stroke="#000" stroke-width="1.5"/>
<circle cx="1218.45" cy="1281.7" r="1.85" fill="#c44e52" stroke="#000" stroke-width="1.5"/>
<circle cx="1218.45" cy="1299.6" r="1.85" fill="#c44e52" stroke="#000" stroke-width="1.5"/>
<circle cx="1218.45" cy="1350.6" r="1.85" fill="#c44e52" stroke="#000" stroke-width="1.5"/>
<circle cx="1218.45" cy="1372.1" r="1.85" fill="#c44e52" stroke="#000" stroke-width="1.5"/>
<circle cx="1227.95" cy="1351.6" r="1.85" fill="#8172b3" stroke="#000" stroke-width="1.5"/>
<circle cx="1230.95" cy="1351.6" r="1.85" fill="#8172b3" stroke="#000" stroke-width="1.5"/>
<circle cx="1230.95" cy="1364.6" r="1.85" fill="#8172b3" stroke="#000" stroke-width="1.5"/>
<circle cx="1230.95" cy="1377.4" r="1.85" fill="#8172b3" stroke="#000" stroke-width="1.5"/>
<circle cx="1230.95" cy="1391.9" r="1.85" fill="#8172b3" stroke="#000" stroke-width="1.5"/>
<circle cx="1243.45" cy="1311.8" r="1.85" fill="#937860" stroke="#000" stroke-width="1.5"/>
<circle cx="1243.45" cy="1342.7" r="1.85" fill="#937860" stroke="#000" stroke-width="1.5"/>
<circle cx="1243.45" cy="1377" r="1.85" fill="#937860" stroke="#000" stroke-width="1.5"/>
<circle cx="1240.95" cy="1426.7" r="1.85" fill="#937860" stroke="#000" stroke-width="1.5"/>
<circle cx="1243.45" cy="1429" r="1.85" fill="#937860" stroke="#000" stroke-width="1.5"/>
<circle cx="1255.95" cy="1330.3" r="1.85" fill="#da8bc3" stroke="#000" stroke-width="1.5"/>
<circle cx="1255.95" cy="1336.8" r="1.85" fill="#da8bc3" stroke="#000" stroke-width="1.5"/>
<circle cx="1255.95" cy="1386.8" r="1.85" fill="#da8bc3" stroke="#000" stroke-width="1.5"/>
<circle cx="1255.95" cy="1395.6" r="1.85" fill="#da8bc3" stroke="#000" stroke-width="1.5"/>
<circle cx="1255.95" cy="1400" r="1.85" fill="#da8bc3" stroke="#000" stroke-width="1.5"/>
<circle cx="1287.2" cy="1275.7" r="1.85" fill="#4c72b0" stroke="#000" stroke-width="1.5"/>
<circle cx="1290.2" cy="1277.2" r="1.85" fill="#4c72b0" stroke="#000" stroke-width="1.5"/>
<circle cx="1290.2" cy="1291.2" r="1.85" fill="#4c72b0" stroke="#000" stroke-width="1.5"/>
<circle cx="1290.2" cy="1310.5" r="1.85" fill="#4c72b0" stroke="#000" stroke-width="1.5"/>
<circle cx="1290.2" cy="1330.2" r="1.85" fill="#4c72b0" stroke="#000" stroke-width="1.5"/>
<circle cx="1302.7" cy="1221.6" r="1.85" fill="#dd8452" stroke="#000" stroke-width="1.5"/>
<circle cx="1302.7" cy="1273.7" r="1.85" fill="#dd8452" stroke="#000" stroke-width="1.5"/>
<circle cx="1299.7" cy="1365.6" r="1.85" fill="#dd8452" stroke="#000" stroke-width="1.5"/>
<circle cx="1302.7" cy="1367.9" r="1.85" fill="#dd8452" stroke="#000" stroke-width="1.5"/>
<circle cx="1302.7" cy="1423.9" r="1.85" fill="#dd8452" stroke="#000" stroke-width="1.5"/>
<circle cx="1315.2" cy="1196.5" r="1.85" fill="#55a868" stroke="#000" stroke-width="1.5"/>
<circle cx="1315.2" cy="1334.1" r="1.85" fill="#55a868" stroke="#000" stroke-width="1.5"/>
<circle cx="1315.2" cy="1394.9" r="1.85" fill="#55a868" stroke="#000" stroke-width="1.5"/>
<circle cx="1315.2" cy="1405" r="1.85" fill="#55a868" stroke="#000" stroke-width="1.5"/>
<circle cx="1315.2" cy="1420" r="1.85" fill="#55a868" stroke="#000" stroke-width="1.5"/>
<circle cx="1327.7" cy="1135.2" r="1.85" fill="#c44e52" stroke="#000" stroke-width="1.5"/>
<circle cx="1324.7" cy="1257.9" r="1.85" fill="#c44e52" stroke="#000" stroke-width="1.5"/>
<circle cx="1327.7" cy="1258.4" r="1.85" fill="#c44e52" stroke="#000" stroke-width="1.5"/>
<circle cx="1327.7" cy="1306.1" r="1.85" fill="#c44e52" stroke="#000" stroke-width="1.5"/>
<circle cx="1327.7" cy="1318.6" r="1.85" fill="#c44e52" stroke="#000" stroke-width="1.5"/>
<circle cx="1340.2" cy="1250" r="1.85" fill="#8172b3" stroke="#000" stroke-width="1.5"/>
<circle cx="1340.2" cy="1300.7" r="1.85" fill="#8172b3" stroke="#000" stroke-width="1.5"/>
<circle cx="1340.2" cy="1331.1" r="1.85" fill="#8172b3" stroke="#000" stroke-width="1.5"/>
<circle cx="1340.2" cy="1336.5" r="1.85" fill="#8172b3" stroke="#000" stroke-width="1.5"/>
<circle cx="1340.2" cy="1380.7" r="1.85" fill="#8172b3" stroke="#000" stroke-width="1.5"/>
<circle cx="1352.7" cy="1203.2" r="1.85" fill="#937860" stroke="#000" stroke-width="1.5"/>
<circle cx="1349.7" cy="1320.4" r="1.85" fill="#937860" stroke="#000" stroke-width="1.5"/>
<circle cx="1352.7" cy="1321.3" r="1.85" fill="#937860" stroke="#000" stroke-width="1.5"/>
<circle cx="1352.7" cy="1346.4" r="1.85" fill="#937860" stroke="#000" stroke-width="1.5"/>
<circle cx="1352.7" cy="1368.9" r="1.85" fill="#937860" stroke="#000" stroke-width="1.5"/>
<circle cx="1365.2" cy="1180.8" r="1.85" fill="#da8bc3" stroke="#000" stroke-width="1.5"/>
<circle cx="1362.2" cy="1272.5" r="1.85" fill="#da8bc3" stroke="#000" stroke-width="1.5"/>
<circle cx="1365.2" cy="1273.7" r="1.85" fill="#da8bc3" stroke="#000" stroke-width="1.5"/>
<circle cx="1365.2" cy="1300.2" r="1.85" fill="#da8bc3" stroke="#000" stroke-width="1.5"/>
<circle cx="1365.2" cy="1313.5" r="1.85" fill="#da8bc3" stroke="#000" stroke-width="1.5"/>
<circle cx="1399.45" cy="1252.8" r="1.85" fill="#4c72b0" stroke="#000" stroke-width="1.5"/>
<circle cx="1399.45" cy="1270.9" r="1.85" fill="#4c72b0" stroke="#000" stroke-width="1.5"/>
<circle cx="1399.45" cy="1282" r="1.85" fill="#4c72b0" stroke="#000" stroke-width="1.5"/>
<circle cx="1399.45" cy="1312.3" r="1.85" fill="#4c72b0" stroke="#000" stroke-width="1.5"/>
<circle cx="1399.45" cy="1332.7" r="1.85" fill="#4c72b0" stroke="#000" stroke-width="1.5"/>
<circle cx="1411.95" cy="1248.1" r="1.85" fill="#dd8452" stroke="#000" stroke-width="1.5"/>
<circle cx="1411.95" cy="1264.3" r="1.85" fill="#dd8452" stroke="#000" stroke-width="1.5"/>
<circle cx="1411.95" cy="1294.7" r="1.85" fill="#dd8452" stroke="#000" stroke-width="1.5"/>
<circle cx="1411.95" cy="1337" r="1.85" fill="#dd8452" stroke="#000" stroke-width="1.5"/>
<circle cx="1411.95" cy="1349.7" r="1.85" fill="#dd8452" stroke="#000" stroke-width="1.5"/>
<circle cx="1424.45" cy="1202.5" r="1.85" fill="#55a868" stroke="#000" stroke-width="1.5"/>
<circle cx="1421.45" cy="1221.6" r="1.85" fill="#55a868" stroke="#000" stroke-width="1.5"/>
<circle cx="1424.45" cy="1222.1" r="1.85" fill="#55a868" stroke="#000" stroke-width="1.5"/>
<circle cx="1424.45" cy="1273.5" r="1.85" fill="#55a868" stroke="#000" stroke-width="1.5"/>
<circle cx="1424.45" cy="1296" r="1.85" fill="#55a868" stroke="#000" stroke-width="1.5"/>
<circle cx="1436.95" cy="1135.2" r="1.85" fill="#c44e52" stroke="#000" stroke-width="1.5"/>
<circle cx="1436.95" cy="1143" r="1.85" fill="#c44e52" stroke="#000" stroke-width="1.5"/>
<circle cx="1436.95" cy="1150.5" r="1.85" fill="#c44e52" stroke="#000" stroke-width="1.5"/>
<circle cx="1436.95" cy="1173.6" r="1.85" fill="#c44e52" stroke="#000" stroke-width="1.5"/>
<circle cx="1436.95" cy="1182.3" r="1.85" fill="#c44e52" stroke="#000" stroke-width="1.5"/>
<circle cx="1449.45" cy="1231.7" r="1.85" fill="#8172b3" stroke="#000" stroke-width="1.5"/>
<circle cx="1449.45" cy="1249.8" r="1.85" fill="#8172b3" stroke="#000" stroke-width="1.5"/>
<circle cx="1449.45" cy="1273" r="1.85" fill="#8172b3" stroke="#000" stroke-width="1.5"/>
<circle cx="1449.45" cy="1280.5" r="1.85" fill="#8172b3" stroke="#000" stroke-width="1.5"/>
<circle cx="1449.45" cy="1296.9" r="1.85" fill="#8172b3" stroke="#000" stroke-width="1.5"/>
<circle cx="1461.95" cy="1183.7" r="1.85" fill="#937860" stroke="#000" stroke-width="1.5"/>
<circle cx="1461.95" cy="1222.9" r="1.85" fill="#937860" stroke="#000" stroke-width="1.5"/>
<circle cx="1461.95" cy="1241" r="1.85" fill="#937860" stroke="#000" stroke-width="1.5"/>
<circle cx="1461.95" cy="1256" r="1.85" fill="#937860" stroke="#000" stroke-width="1.5"/>
<circle cx="1461.95" cy="1262.9" r="1.85" fill="#937860" stroke="#000" stroke-width="1.5"/>
<circle cx="1474.45" cy="1200" r="1.85" fill="#da8bc3" stroke="#000" stroke-width="1.5"/>
<circle cx="1474.45" cy="1222.1" r="1.85" fill="#da8bc3" stroke="#000" stroke-width="1.5"/>
<circle cx="1474.45" cy="1231" r="1.85" fill="#da8bc3" stroke="#000" stroke-width="1.5"/>
<circle cx="1474.45" cy="1235.4" r="1.85" fill="#da8bc3" stroke="#000" stroke-width="1.5"/>
<circle cx="1474.45" cy="1250.6" r="1.85" fill="#da8bc3" stroke="#000" stroke-width="1.5"/>
<circle cx="1508.7" cy="1223.7" r="1.85" fill="#4c72b0" stroke="#000" stroke-width="1.5"/>
<circle cx="1508.7" cy="1240.7" r="1.85" fill="#4c72b0" stroke="#000" stroke-width="1.5"/>
<circle cx="1506.7" cy="1243" r="1.85" fill="#4c72b0" stroke="#000" stroke-width="1.5"/>
<circle cx="1508.7" cy="1244.9" r="1.85" fill="#4c72b0" stroke="#000" stroke-width="1.5"/>
<circle cx="1510.7" cy="1247" r="1.85" fill="#4c72b0" stroke="#000" stroke-width="1.5"/>
<circle cx="1508.7" cy="1249" r="1.85" fill="#4c72b0" stroke="#000" stroke-width="1.5"/>
<circle cx="1508.7" cy="1288.3" r="1.85" fill="#4c72b0" stroke="#000" stroke-width="1.5"/>
<circle cx="1521.2" cy="1216.1" r="1.85" fill="#dd8452" stroke="#000" stroke-width="1.5"/>
<circle cx="1521.2" cy="1233" r="1.85" fill="#dd8452" stroke="#000" stroke-width="1.5"/>
<circle cx="1521.2" cy="1241.3" r="1.85" fill="#dd8452" stroke="#000" stroke-width="1.5"/>
<circle cx="1521.2" cy="1249.9" r="1.85" fill="#dd8452" stroke="#000" stroke-width="1.5"/>
<circle cx="1521.2" cy="1327" r="1.85" fill="#dd8452" stroke="#000" stroke-width="1.5"/>
<circle cx="1533.7" cy="1183.7" r="1.85" fill="#55a868" stroke="#000" stroke-width="1.5"/>
<circle cx="1533.7" cy="1188.9" r="1.85" fill="#55a868" stroke="#000" stroke-width="1.5"/>
<circle cx="1533.7" cy="1222.3" r="1.85" fill="#55a868" stroke="#000" stroke-width="1.5"/>
<circle cx="1533.7" cy="1232.1" r="1.85" fill="#55a868" stroke="#000" stroke-width="1.5"/>
<circle cx="1533.7" cy="1241" r="1.85" fill="#55a868" stroke="#000" stroke-width="1.5"/>
<circle cx="1546.2" cy="1093.1" r="1.85" fill="#c44e52" stroke="#000" stroke-width="1.5"/>
<circle cx="1546.2" cy="1105.8" r="1.85" fill="#c44e52" stroke="#000" stroke-width="1.5"/>
<circle cx="1546.2" cy="1150.5" r="1.85" fill="#c44e52" stroke="#000" stroke-width="1.5"/>
<circle cx="1546.2" cy="1168.8" r="1.85" fill="#c44e52" stroke="#000" stroke-width="1.5"/>
<circle cx="1546.2" cy="1176.9" r="1.85" fill="#c44e52" stroke="#000" stroke-width="1.5"/>
<circle cx="1558.7" cy="1178.6" r="1.85" fill="#8172b3" stroke="#000" stroke-width="1.5"/>
<circle cx="1558.7" cy="1206.1" r="1.85" fill="#8172b3" stroke="#000" stroke-width="1.5"/>
<circle cx="1558.7" cy="1240.4" r="1.85" fill="#8172b3" stroke="#000" stroke-width="1.5"/>
<circle cx="1558.7" cy="1248.7" r="1.85" fill="#8172b3" stroke="#000" stroke-width="1.5"/>
<circle cx="1558.7" cy="1288.6" r="1.85" fill="#8172b3" stroke="#000" stroke-width="1.5"/>
<circle cx="1571.2" cy="1174.2" r="1.85" fill="#937860" stroke="#000" stroke-width="1.5"/>
<circle cx="1571.2" cy="1190.9" r="1.85" fill="#937860" stroke="#000" stroke-width="1.5"/>
<circle cx="1571.2" cy="1197.3" r="1.85" fill="#937860" stroke="#000" stroke-width="1.5"/>
<circle cx="1568.2" cy="1202.5" r="1.85" fill="#937860" stroke="#000" stroke-width="1.5"/>
<circle cx="1571.2" cy="1203.6" r="1.85" fill="#937860" stroke="#000" stroke-width="1.5"/>
<circle cx="1583.7" cy="1161.3" r="1.85" fill="#da8bc3" stroke="#000" stroke-width="1.5"/>
<circle cx="1583.7" cy="1166.4" r="1.85" fill="#da8bc3" stroke="#000" stroke-width="1.5"/>
<circle cx="1583.7" cy="1170.5" r="1.85" fill="#da8bc3" stroke="#000" stroke-width="1.5"/>
<circle cx="1583.7" cy="1187.5" r="1.85" fill="#da8bc3" stroke="#000" stroke-width="1.5"/>
<circle cx="1583.7" cy="1205.6" r="1.85" fill="#da8bc3" stroke="#000" stroke-width="1.5"/>
<circle cx="1617.95" cy="1205.6" r="1.85" fill="#4c72b0" stroke="#000" stroke-width="1.5"/>
<circle cx="1617.95" cy="1210.5" r="1.85" fill="#4c72b0" stroke="#000" stroke-width="1.5"/>
<circle cx="1617.95" cy="1245.1" r="1.85" fill="#4c72b0" stroke="#000" stroke-width="1.5"/>
<circle cx="1617.95" cy="1257.8" r="1.85" fill="#4c72b0" stroke="#000" stroke-width="1.5"/>
<circle cx="1617.95" cy="1295.5" r="1.85" fill="#4c72b0" stroke="#000" stroke-width="1.5"/>
<circle cx="1630.45" cy="1199" r="1.85" fill="#dd8452" stroke="#000" stroke-width="1.5"/>
<circle cx="1630.45" cy="1222.9" r="1.85" fill="#dd8452" stroke="#000" stroke-width="1.5"/>
<circle cx="1630.45" cy="1235.5" r="1.85" fill="#dd8452" stroke="#000" stroke-width="1.5"/>
<circle cx="1630.45" cy="1258.7" r="1.85" fill="#dd8452" stroke="#000" stroke-width="1.5"/>
<circle cx="1630.45" cy="1304" r="1.85" fill="#dd8452" stroke="#000" stroke-width="1.5"/>
<circle cx="1642.95" cy="1204.4" r="1.85" fill="#55a868" stroke="#000" stroke-width="1.5"/>
<circle cx="1640.45" cy="1206.5" r="1.85" fill="#55a868" stroke="#000" stroke-width="1.5"/>
<circle cx="1642.95" cy="1207.6" r="1.85" fill="#55a868" stroke="#000" stroke-width="1.5"/>
<circle cx="1645.45" cy="1206.5" r="1.85" fill="#55a868" stroke="#000" stroke-width="1.5"/>
<circle cx="1642.95" cy="1211" r="1.85" fill="#55a868" stroke="#000" stroke-width="1.5"/>
<circle cx="1642.95" cy="1222.8" r="1.85" fill="#55a868" stroke="#000" stroke-width="1.5"/>
<circle cx="1655.45" cy="1090.3" r="1.85" fill="#c44e52" stroke="#000" stroke-width="1.5"/>
<circle cx="1655.45" cy="1103.1" r="1.85" fill="#c44e52" stroke="#000" stroke-width="1.5"/>
<circle cx="1655.45" cy="1111.9" r="1.85" fill="#c44e52" stroke="#000" stroke-width="1.5"/>
<circle cx="1655.45" cy="1139.4" r="1.85" fill="#c44e52" stroke="#000" stroke-width="1.5"/>
<circle cx="1655.45" cy="1149.2" r="1.85" fill="#c44e52" stroke="#000" stroke-width="1.5"/>
<circle cx="1667.95" cy="1188.9" r="1.85" fill="#8172b3" stroke="#000" stroke-width="1.5"/>
<circle cx="1667.95" cy="1192.9" r="1.85" fill="#8172b3" stroke="#000" stroke-width="1.5"/>
<circle cx="1667.95" cy="1207.5" r="1.85" fill="#8172b3" stroke="#000" stroke-width="1.5"/>
<circle cx="1667.95" cy="1222.3" r="1.85" fill="#8172b3" stroke="#000" stroke-width="1.5"/>
<circle cx="1667.95" cy="1232.6" r="1.85" fill="#8172b3" stroke="#000" stroke-width="1.5"/>
<circle cx="1680.45" cy="1152.1" r="1.85" fill="#937860" stroke="#000" stroke-width="1.5"/>
<circle cx="1680.45" cy="1180.1" r="1.85" fill="#937860" stroke="#000" stroke-width="1.5"/>
<circle cx="1680.45" cy="1185.5" r="1.85" fill="#937860" stroke="#000" stroke-width="1.5"/>
<circle cx="1677.45" cy="1209.4" r="1.85" fill="#937860" stroke="#000" stroke-width="1.5"/>
<circle cx="1680.45" cy="1210.8" r="1.85" fill="#937860" stroke="#000" stroke-width="1.5"/>
<circle cx="1692.95" cy="1143.3" r="1.85" fill="#da8bc3" stroke="#000" stroke-width="1.5"/>
<circle cx="1692.95" cy="1155.1" r="1.85" fill="#da8bc3" stroke="#000" stroke-width="1.5"/>
<circle cx="1689.95" cy="1167.3" r="1.85" fill="#da8bc3" stroke="#000" stroke-width="1.5"/>
<circle cx="1692.95" cy="1168.3" r="1.85" fill="#da8bc3" stroke="#000" stroke-width="1.5"/>
<circle cx="1692.95" cy="1171.8" r="1.85" fill="#da8bc3" stroke="#000" stroke-width="1.5"/>
<circle cx="1724.7" cy="1160" r="1.85" fill="#4c72b0" stroke="#000" stroke-width="1.5"/>
<circle cx="1727.2" cy="1162.9" r="1.85" fill="#4c72b0" stroke="#000" stroke-width="1.5"/>
<circle cx="1724.7" cy="1204.2" r="1.85" fill="#4c72b0" stroke="#000" stroke-width="1.5"/>
<circle cx="1727.2" cy="1206.3" r="1.85" fill="#4c72b0" stroke="#000" stroke-width="1.5"/>
<circle cx="1727.2" cy="1229.3" r="1.85" fill="#4c72b0" stroke="#000" stroke-width="1.5"/>
<circle cx="1736.7" cy="1090.2" r="1.85" fill="#dd8452" stroke="#000" stroke-width="1.5"/>
<circle cx="1742.7" cy="1090.2" r="1.85" fill="#dd8452" stroke="#000" stroke-width="1.5"/>
<circle cx="1739.7" cy="1092.6" r="1.85" fill="#dd8452" stroke="#000" stroke-width="1.5"/>
<circle cx="1739.7" cy="1108.8" r="1.85" fill="#dd8452" stroke="#000" stroke-width="1.5"/>
<circle cx="1739.7" cy="1120.1" r="1.85" fill="#dd8452" stroke="#000" stroke-width="1.5"/>
<circle cx="1752.2" cy="1153.6" r="1.85" fill="#55a868" stroke="#000" stroke-width="1.5"/>
<circle cx="1752.2" cy="1162" r="1.85" fill="#55a868" stroke="#000" stroke-width="1.5"/>
<circle cx="1752.2" cy="1184.5" r="1.85" fill="#55a868" stroke="#000" stroke-width="1.5"/>
<circle cx="1752.2" cy="1194.8" r="1.85" fill="#55a868" stroke="#000" stroke-width="1.5"/>
<circle cx="1752.2" cy="1215.1" r="1.85" fill="#55a868" stroke="#000" stroke-width="1.5"/>
<circle cx="1764.7" cy="1031.3" r="1.85" fill="#c44e52" stroke="#000" stroke-width="1.5"/>
<circle cx="1764.7" cy="1054.8" r="1.85" fill="#c44e52" stroke="#000" stroke-width="1.5"/>
<circle cx="1764.7" cy="1058.6" r="1.85" fill="#c44e52" stroke="#000" stroke-width="1.5"/>
<circle cx="1764.7" cy="1087.7" r="1.85" fill="#c44e52" stroke="#000" stroke-width="1.5"/>
<circle cx="1764.7" cy="1093.1" r="1.85" fill="#c44e52" stroke="#000" stroke-width="1.5"/>
<circle cx="1777.2" cy="1138.7" r="1.85" fill="#8172b3" stroke="#000" stroke-width="1.5"/>
<circle cx="1777.2" cy="1143.2" r="1.85" fill="#8172b3" stroke="#000" stroke-width="1.5"/>
<circle cx="1777.2" cy="1154.7" r="1.85" fill="#8172b3" stroke="#000" stroke-width="1.5"/>
<circle cx="1775.2" cy="1177.5" r="1.85" fill="#8172b3" stroke="#000" stroke-width="1.5"/>
<circle cx="1777.2" cy="1180" r="1.85" fill="#8172b3" stroke="#000" stroke-width="1.5"/>
<circle cx="1789.7" cy="1102.7" r="1.85" fill="#937860" stroke="#000" stroke-width="1.5"/>
<circle cx="1789.7" cy="1121.6" r="1.85" fill="#937860" stroke="#000" stroke-width="1.5"/>
<circle cx="1787.2" cy="1141" r="1.85" fill="#937860" stroke="#000" stroke-width="1.5"/>
<circle cx="1789.7" cy="1144.1" r="1.85" fill="#937860" stroke="#000" stroke-width="1.5"/>
<circle cx="1789.7" cy="1153.5" r="1.85" fill="#937860" stroke="#000" stroke-width="1.5"/>
<circle cx="1802.2" cy="1055.3" r="1.85" fill="#da8bc3" stroke="#000" stroke-width="1.5"/>
<circle cx="1802.2" cy="1072.5" r="1.85" fill="#da8bc3" stroke="#000" stroke-width="1.5"/>
<circle cx="1799.7" cy="1075.4" r="1.85" fill="#da8bc3" stroke="#000" stroke-width="1.5"/>
<circle cx="1802.2" cy="1078" r="1.85" fill="#da8bc3" stroke="#000" stroke-width="1.5"/>
<circle cx="1802.2" cy="1093.1" r="1.85" fill="#da8bc3" stroke="#000" stroke-width="1.5"/>
</g>
</svg>
</body></html>
